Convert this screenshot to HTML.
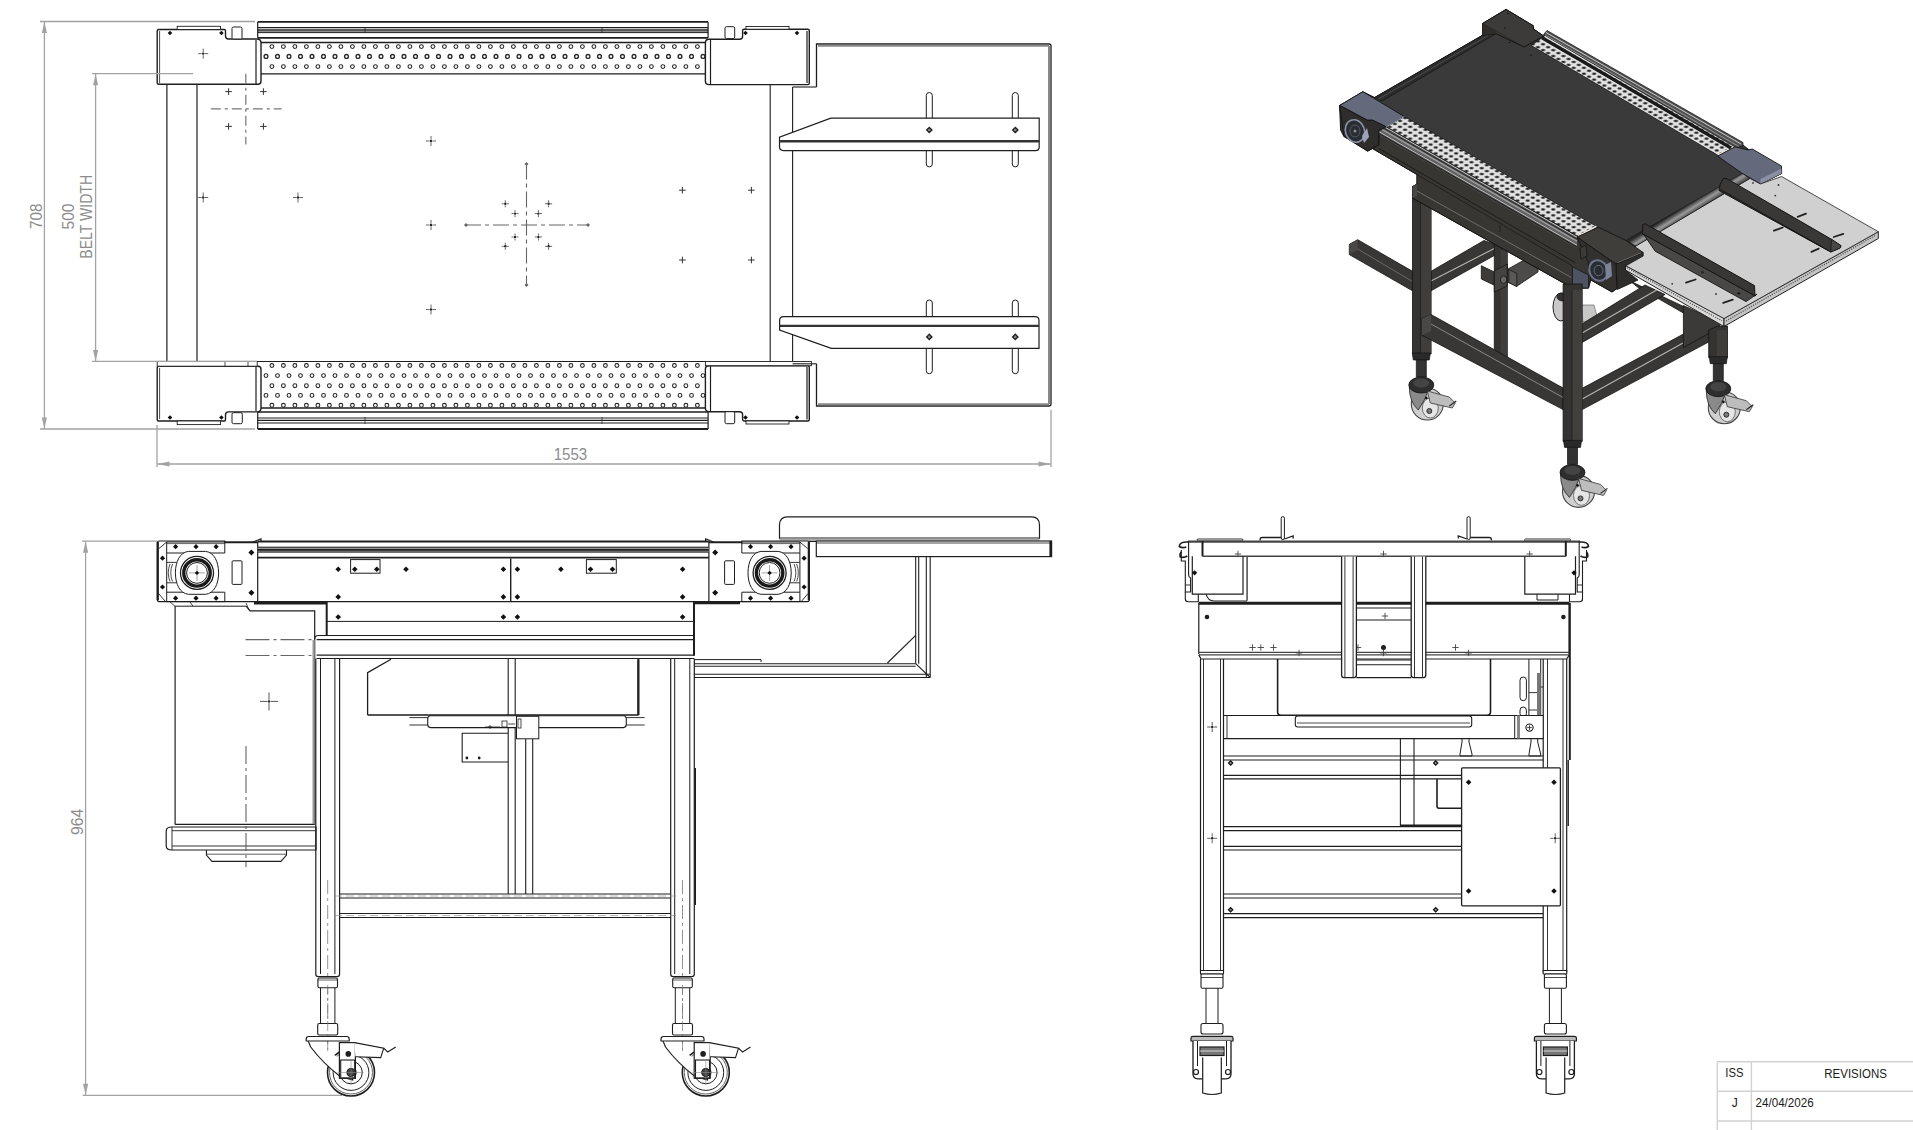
<!DOCTYPE html>
<html><head><meta charset="utf-8"><title>Conveyor drawing</title>
<style>
html,body{margin:0;padding:0;background:#fff;}
body{width:1913px;height:1130px;overflow:hidden;font-family:"Liberation Sans",sans-serif;}
svg{display:block;}
</style></head><body>
<svg width="1913" height="1130" viewBox="0 0 1913 1130">
<rect x="0" y="0" width="1913" height="1130" fill="#fff"/>
<!-- plan -->
<line x1="257.7" y1="21.9" x2="708.1" y2="21.9" stroke="#1e1e1e" stroke-width="1.8" /><line x1="257.7" y1="27.5" x2="708.1" y2="27.5" stroke="#1e1e1e" stroke-width="1.2" /><line x1="257.7" y1="29.2" x2="708.1" y2="29.2" stroke="#1e1e1e" stroke-width="1.1" /><line x1="257.7" y1="30.9" x2="708.1" y2="30.9" stroke="#1e1e1e" stroke-width="1.1" /><line x1="257.7" y1="32.6" x2="708.1" y2="32.6" stroke="#1e1e1e" stroke-width="1.0" /><line x1="257.7" y1="37.8" x2="708.1" y2="37.8" stroke="#1e1e1e" stroke-width="1.7" /><line x1="257.7" y1="21.9" x2="257.7" y2="37.8" stroke="#1e1e1e" stroke-width="1.2" /><line x1="708.1" y1="21.9" x2="708.1" y2="37.8" stroke="#1e1e1e" stroke-width="1.2" /><line x1="365" y1="28" x2="365" y2="33" stroke="#1e1e1e" stroke-width="0.7" /><line x1="602" y1="28" x2="602" y2="33" stroke="#1e1e1e" stroke-width="0.7" />
<line x1="257.7" y1="429" x2="708.1" y2="429" stroke="#1e1e1e" stroke-width="1.8" /><line x1="257.7" y1="423" x2="708.1" y2="423" stroke="#1e1e1e" stroke-width="1.1" /><line x1="257.7" y1="420.4" x2="708.1" y2="420.4" stroke="#1e1e1e" stroke-width="1.2" /><line x1="257.7" y1="418" x2="708.1" y2="418" stroke="#1e1e1e" stroke-width="1.1" /><line x1="257.7" y1="411.9" x2="708.1" y2="411.9" stroke="#1e1e1e" stroke-width="1.5" /><line x1="257.7" y1="411.9" x2="257.7" y2="429" stroke="#1e1e1e" stroke-width="1.2" /><line x1="708.1" y1="411.9" x2="708.1" y2="429" stroke="#1e1e1e" stroke-width="1.2" /><line x1="365" y1="417" x2="365" y2="424" stroke="#1e1e1e" stroke-width="0.7" /><line x1="602" y1="417" x2="602" y2="424" stroke="#1e1e1e" stroke-width="0.7" />
<line x1="261" y1="42.4" x2="705.4" y2="42.4" stroke="#1e1e1e" stroke-width="1.5" />
<line x1="261" y1="73.8" x2="705.4" y2="73.8" stroke="#1e1e1e" stroke-width="1.2" />
<line x1="257" y1="361.5" x2="706" y2="361.5" stroke="#1e1e1e" stroke-width="1.2" />
<line x1="261" y1="408" x2="705.4" y2="408" stroke="#1e1e1e" stroke-width="1.5" />
<g fill="none" stroke="#2a2a2a" stroke-width="1.1"><circle cx="271.9" cy="46.6" r="1.9"/><circle cx="283.4" cy="46.6" r="1.9"/><circle cx="294.9" cy="46.6" r="1.9"/><circle cx="306.4" cy="46.6" r="1.9"/><circle cx="317.9" cy="46.6" r="1.9"/><circle cx="329.4" cy="46.6" r="1.9"/><circle cx="340.9" cy="46.6" r="1.9"/><circle cx="352.4" cy="46.6" r="1.9"/><circle cx="363.9" cy="46.6" r="1.9"/><circle cx="375.4" cy="46.6" r="1.9"/><circle cx="386.9" cy="46.6" r="1.9"/><circle cx="398.4" cy="46.6" r="1.9"/><circle cx="409.9" cy="46.6" r="1.9"/><circle cx="421.4" cy="46.6" r="1.9"/><circle cx="432.9" cy="46.6" r="1.9"/><circle cx="444.4" cy="46.6" r="1.9"/><circle cx="455.9" cy="46.6" r="1.9"/><circle cx="467.4" cy="46.6" r="1.9"/><circle cx="478.9" cy="46.6" r="1.9"/><circle cx="490.4" cy="46.6" r="1.9"/><circle cx="501.9" cy="46.6" r="1.9"/><circle cx="513.4" cy="46.6" r="1.9"/><circle cx="524.9" cy="46.6" r="1.9"/><circle cx="536.4" cy="46.6" r="1.9"/><circle cx="547.9" cy="46.6" r="1.9"/><circle cx="559.4" cy="46.6" r="1.9"/><circle cx="570.9" cy="46.6" r="1.9"/><circle cx="582.4" cy="46.6" r="1.9"/><circle cx="593.9" cy="46.6" r="1.9"/><circle cx="605.4" cy="46.6" r="1.9"/><circle cx="616.9" cy="46.6" r="1.9"/><circle cx="628.4" cy="46.6" r="1.9"/><circle cx="639.9" cy="46.6" r="1.9"/><circle cx="651.4" cy="46.6" r="1.9"/><circle cx="662.9" cy="46.6" r="1.9"/><circle cx="674.4" cy="46.6" r="1.9"/><circle cx="685.9" cy="46.6" r="1.9"/><circle cx="697.4" cy="46.6" r="1.9"/><circle cx="271.9" cy="66.6" r="1.9"/><circle cx="283.4" cy="66.6" r="1.9"/><circle cx="294.9" cy="66.6" r="1.9"/><circle cx="306.4" cy="66.6" r="1.9"/><circle cx="317.9" cy="66.6" r="1.9"/><circle cx="329.4" cy="66.6" r="1.9"/><circle cx="340.9" cy="66.6" r="1.9"/><circle cx="352.4" cy="66.6" r="1.9"/><circle cx="363.9" cy="66.6" r="1.9"/><circle cx="375.4" cy="66.6" r="1.9"/><circle cx="386.9" cy="66.6" r="1.9"/><circle cx="398.4" cy="66.6" r="1.9"/><circle cx="409.9" cy="66.6" r="1.9"/><circle cx="421.4" cy="66.6" r="1.9"/><circle cx="432.9" cy="66.6" r="1.9"/><circle cx="444.4" cy="66.6" r="1.9"/><circle cx="455.9" cy="66.6" r="1.9"/><circle cx="467.4" cy="66.6" r="1.9"/><circle cx="478.9" cy="66.6" r="1.9"/><circle cx="490.4" cy="66.6" r="1.9"/><circle cx="501.9" cy="66.6" r="1.9"/><circle cx="513.4" cy="66.6" r="1.9"/><circle cx="524.9" cy="66.6" r="1.9"/><circle cx="536.4" cy="66.6" r="1.9"/><circle cx="547.9" cy="66.6" r="1.9"/><circle cx="559.4" cy="66.6" r="1.9"/><circle cx="570.9" cy="66.6" r="1.9"/><circle cx="582.4" cy="66.6" r="1.9"/><circle cx="593.9" cy="66.6" r="1.9"/><circle cx="605.4" cy="66.6" r="1.9"/><circle cx="616.9" cy="66.6" r="1.9"/><circle cx="628.4" cy="66.6" r="1.9"/><circle cx="639.9" cy="66.6" r="1.9"/><circle cx="651.4" cy="66.6" r="1.9"/><circle cx="662.9" cy="66.6" r="1.9"/><circle cx="674.4" cy="66.6" r="1.9"/><circle cx="685.9" cy="66.6" r="1.9"/><circle cx="697.4" cy="66.6" r="1.9"/><circle cx="271.9" cy="365.5" r="1.9"/><circle cx="283.4" cy="365.5" r="1.9"/><circle cx="294.9" cy="365.5" r="1.9"/><circle cx="306.4" cy="365.5" r="1.9"/><circle cx="317.9" cy="365.5" r="1.9"/><circle cx="329.4" cy="365.5" r="1.9"/><circle cx="340.9" cy="365.5" r="1.9"/><circle cx="352.4" cy="365.5" r="1.9"/><circle cx="363.9" cy="365.5" r="1.9"/><circle cx="375.4" cy="365.5" r="1.9"/><circle cx="386.9" cy="365.5" r="1.9"/><circle cx="398.4" cy="365.5" r="1.9"/><circle cx="409.9" cy="365.5" r="1.9"/><circle cx="421.4" cy="365.5" r="1.9"/><circle cx="432.9" cy="365.5" r="1.9"/><circle cx="444.4" cy="365.5" r="1.9"/><circle cx="455.9" cy="365.5" r="1.9"/><circle cx="467.4" cy="365.5" r="1.9"/><circle cx="478.9" cy="365.5" r="1.9"/><circle cx="490.4" cy="365.5" r="1.9"/><circle cx="501.9" cy="365.5" r="1.9"/><circle cx="513.4" cy="365.5" r="1.9"/><circle cx="524.9" cy="365.5" r="1.9"/><circle cx="536.4" cy="365.5" r="1.9"/><circle cx="547.9" cy="365.5" r="1.9"/><circle cx="559.4" cy="365.5" r="1.9"/><circle cx="570.9" cy="365.5" r="1.9"/><circle cx="582.4" cy="365.5" r="1.9"/><circle cx="593.9" cy="365.5" r="1.9"/><circle cx="605.4" cy="365.5" r="1.9"/><circle cx="616.9" cy="365.5" r="1.9"/><circle cx="628.4" cy="365.5" r="1.9"/><circle cx="639.9" cy="365.5" r="1.9"/><circle cx="651.4" cy="365.5" r="1.9"/><circle cx="662.9" cy="365.5" r="1.9"/><circle cx="674.4" cy="365.5" r="1.9"/><circle cx="685.9" cy="365.5" r="1.9"/><circle cx="697.4" cy="365.5" r="1.9"/><circle cx="266" cy="375.6" r="1.9"/><circle cx="277.5" cy="375.6" r="1.9"/><circle cx="289" cy="375.6" r="1.9"/><circle cx="300.5" cy="375.6" r="1.9"/><circle cx="312" cy="375.6" r="1.9"/><circle cx="323.5" cy="375.6" r="1.9"/><circle cx="335" cy="375.6" r="1.9"/><circle cx="346.5" cy="375.6" r="1.9"/><circle cx="358" cy="375.6" r="1.9"/><circle cx="369.5" cy="375.6" r="1.9"/><circle cx="381" cy="375.6" r="1.9"/><circle cx="392.5" cy="375.6" r="1.9"/><circle cx="404" cy="375.6" r="1.9"/><circle cx="415.5" cy="375.6" r="1.9"/><circle cx="427" cy="375.6" r="1.9"/><circle cx="438.5" cy="375.6" r="1.9"/><circle cx="450" cy="375.6" r="1.9"/><circle cx="461.5" cy="375.6" r="1.9"/><circle cx="473" cy="375.6" r="1.9"/><circle cx="484.5" cy="375.6" r="1.9"/><circle cx="496" cy="375.6" r="1.9"/><circle cx="507.5" cy="375.6" r="1.9"/><circle cx="519" cy="375.6" r="1.9"/><circle cx="530.5" cy="375.6" r="1.9"/><circle cx="542" cy="375.6" r="1.9"/><circle cx="553.5" cy="375.6" r="1.9"/><circle cx="565" cy="375.6" r="1.9"/><circle cx="576.5" cy="375.6" r="1.9"/><circle cx="588" cy="375.6" r="1.9"/><circle cx="599.5" cy="375.6" r="1.9"/><circle cx="611" cy="375.6" r="1.9"/><circle cx="622.5" cy="375.6" r="1.9"/><circle cx="634" cy="375.6" r="1.9"/><circle cx="645.5" cy="375.6" r="1.9"/><circle cx="657" cy="375.6" r="1.9"/><circle cx="668.5" cy="375.6" r="1.9"/><circle cx="680" cy="375.6" r="1.9"/><circle cx="691.5" cy="375.6" r="1.9"/><circle cx="703" cy="375.6" r="1.9"/><circle cx="271.9" cy="385.7" r="1.9"/><circle cx="283.4" cy="385.7" r="1.9"/><circle cx="294.9" cy="385.7" r="1.9"/><circle cx="306.4" cy="385.7" r="1.9"/><circle cx="317.9" cy="385.7" r="1.9"/><circle cx="329.4" cy="385.7" r="1.9"/><circle cx="340.9" cy="385.7" r="1.9"/><circle cx="352.4" cy="385.7" r="1.9"/><circle cx="363.9" cy="385.7" r="1.9"/><circle cx="375.4" cy="385.7" r="1.9"/><circle cx="386.9" cy="385.7" r="1.9"/><circle cx="398.4" cy="385.7" r="1.9"/><circle cx="409.9" cy="385.7" r="1.9"/><circle cx="421.4" cy="385.7" r="1.9"/><circle cx="432.9" cy="385.7" r="1.9"/><circle cx="444.4" cy="385.7" r="1.9"/><circle cx="455.9" cy="385.7" r="1.9"/><circle cx="467.4" cy="385.7" r="1.9"/><circle cx="478.9" cy="385.7" r="1.9"/><circle cx="490.4" cy="385.7" r="1.9"/><circle cx="501.9" cy="385.7" r="1.9"/><circle cx="513.4" cy="385.7" r="1.9"/><circle cx="524.9" cy="385.7" r="1.9"/><circle cx="536.4" cy="385.7" r="1.9"/><circle cx="547.9" cy="385.7" r="1.9"/><circle cx="559.4" cy="385.7" r="1.9"/><circle cx="570.9" cy="385.7" r="1.9"/><circle cx="582.4" cy="385.7" r="1.9"/><circle cx="593.9" cy="385.7" r="1.9"/><circle cx="605.4" cy="385.7" r="1.9"/><circle cx="616.9" cy="385.7" r="1.9"/><circle cx="628.4" cy="385.7" r="1.9"/><circle cx="639.9" cy="385.7" r="1.9"/><circle cx="651.4" cy="385.7" r="1.9"/><circle cx="662.9" cy="385.7" r="1.9"/><circle cx="674.4" cy="385.7" r="1.9"/><circle cx="685.9" cy="385.7" r="1.9"/><circle cx="697.4" cy="385.7" r="1.9"/><circle cx="266" cy="395.4" r="1.9"/><circle cx="277.5" cy="395.4" r="1.9"/><circle cx="289" cy="395.4" r="1.9"/><circle cx="300.5" cy="395.4" r="1.9"/><circle cx="312" cy="395.4" r="1.9"/><circle cx="323.5" cy="395.4" r="1.9"/><circle cx="335" cy="395.4" r="1.9"/><circle cx="346.5" cy="395.4" r="1.9"/><circle cx="358" cy="395.4" r="1.9"/><circle cx="369.5" cy="395.4" r="1.9"/><circle cx="381" cy="395.4" r="1.9"/><circle cx="392.5" cy="395.4" r="1.9"/><circle cx="404" cy="395.4" r="1.9"/><circle cx="415.5" cy="395.4" r="1.9"/><circle cx="427" cy="395.4" r="1.9"/><circle cx="438.5" cy="395.4" r="1.9"/><circle cx="450" cy="395.4" r="1.9"/><circle cx="461.5" cy="395.4" r="1.9"/><circle cx="473" cy="395.4" r="1.9"/><circle cx="484.5" cy="395.4" r="1.9"/><circle cx="496" cy="395.4" r="1.9"/><circle cx="507.5" cy="395.4" r="1.9"/><circle cx="519" cy="395.4" r="1.9"/><circle cx="530.5" cy="395.4" r="1.9"/><circle cx="542" cy="395.4" r="1.9"/><circle cx="553.5" cy="395.4" r="1.9"/><circle cx="565" cy="395.4" r="1.9"/><circle cx="576.5" cy="395.4" r="1.9"/><circle cx="588" cy="395.4" r="1.9"/><circle cx="599.5" cy="395.4" r="1.9"/><circle cx="611" cy="395.4" r="1.9"/><circle cx="622.5" cy="395.4" r="1.9"/><circle cx="634" cy="395.4" r="1.9"/><circle cx="645.5" cy="395.4" r="1.9"/><circle cx="657" cy="395.4" r="1.9"/><circle cx="668.5" cy="395.4" r="1.9"/><circle cx="680" cy="395.4" r="1.9"/><circle cx="691.5" cy="395.4" r="1.9"/><circle cx="703" cy="395.4" r="1.9"/><circle cx="271.9" cy="405.3" r="1.9"/><circle cx="283.4" cy="405.3" r="1.9"/><circle cx="294.9" cy="405.3" r="1.9"/><circle cx="306.4" cy="405.3" r="1.9"/><circle cx="317.9" cy="405.3" r="1.9"/><circle cx="329.4" cy="405.3" r="1.9"/><circle cx="340.9" cy="405.3" r="1.9"/><circle cx="352.4" cy="405.3" r="1.9"/><circle cx="363.9" cy="405.3" r="1.9"/><circle cx="375.4" cy="405.3" r="1.9"/><circle cx="386.9" cy="405.3" r="1.9"/><circle cx="398.4" cy="405.3" r="1.9"/><circle cx="409.9" cy="405.3" r="1.9"/><circle cx="421.4" cy="405.3" r="1.9"/><circle cx="432.9" cy="405.3" r="1.9"/><circle cx="444.4" cy="405.3" r="1.9"/><circle cx="455.9" cy="405.3" r="1.9"/><circle cx="467.4" cy="405.3" r="1.9"/><circle cx="478.9" cy="405.3" r="1.9"/><circle cx="490.4" cy="405.3" r="1.9"/><circle cx="501.9" cy="405.3" r="1.9"/><circle cx="513.4" cy="405.3" r="1.9"/><circle cx="524.9" cy="405.3" r="1.9"/><circle cx="536.4" cy="405.3" r="1.9"/><circle cx="547.9" cy="405.3" r="1.9"/><circle cx="559.4" cy="405.3" r="1.9"/><circle cx="570.9" cy="405.3" r="1.9"/><circle cx="582.4" cy="405.3" r="1.9"/><circle cx="593.9" cy="405.3" r="1.9"/><circle cx="605.4" cy="405.3" r="1.9"/><circle cx="616.9" cy="405.3" r="1.9"/><circle cx="628.4" cy="405.3" r="1.9"/><circle cx="639.9" cy="405.3" r="1.9"/><circle cx="651.4" cy="405.3" r="1.9"/><circle cx="662.9" cy="405.3" r="1.9"/><circle cx="674.4" cy="405.3" r="1.9"/><circle cx="685.9" cy="405.3" r="1.9"/><circle cx="697.4" cy="405.3" r="1.9"/></g>
<g fill="none" stroke="#2a2a2a" stroke-width="1.35"><circle cx="266" cy="56.4" r="1.9"/><circle cx="277.5" cy="56.4" r="1.9"/><circle cx="289" cy="56.4" r="1.9"/><circle cx="300.5" cy="56.4" r="1.9"/><circle cx="312" cy="56.4" r="1.9"/><circle cx="323.5" cy="56.4" r="1.9"/><circle cx="335" cy="56.4" r="1.9"/><circle cx="346.5" cy="56.4" r="1.9"/><circle cx="358" cy="56.4" r="1.9"/><circle cx="369.5" cy="56.4" r="1.9"/><circle cx="381" cy="56.4" r="1.9"/><circle cx="392.5" cy="56.4" r="1.9"/><circle cx="404" cy="56.4" r="1.9"/><circle cx="415.5" cy="56.4" r="1.9"/><circle cx="427" cy="56.4" r="1.9"/><circle cx="438.5" cy="56.4" r="1.9"/><circle cx="450" cy="56.4" r="1.9"/><circle cx="461.5" cy="56.4" r="1.9"/><circle cx="473" cy="56.4" r="1.9"/><circle cx="484.5" cy="56.4" r="1.9"/><circle cx="496" cy="56.4" r="1.9"/><circle cx="507.5" cy="56.4" r="1.9"/><circle cx="519" cy="56.4" r="1.9"/><circle cx="530.5" cy="56.4" r="1.9"/><circle cx="542" cy="56.4" r="1.9"/><circle cx="553.5" cy="56.4" r="1.9"/><circle cx="565" cy="56.4" r="1.9"/><circle cx="576.5" cy="56.4" r="1.9"/><circle cx="588" cy="56.4" r="1.9"/><circle cx="599.5" cy="56.4" r="1.9"/><circle cx="611" cy="56.4" r="1.9"/><circle cx="622.5" cy="56.4" r="1.9"/><circle cx="634" cy="56.4" r="1.9"/><circle cx="645.5" cy="56.4" r="1.9"/><circle cx="657" cy="56.4" r="1.9"/><circle cx="668.5" cy="56.4" r="1.9"/><circle cx="680" cy="56.4" r="1.9"/><circle cx="691.5" cy="56.4" r="1.9"/><circle cx="703" cy="56.4" r="1.9"/></g>
<path d="M157.2,31 Q157.2,29.5 158.7,29.5 L224.3,29.5 Q225.5,29.5 225.5,31 L225.5,36 Q225.5,39 228.5,39 L257,39 Q261,39 261,43 L261,81 Q261,84.3 258,84.3 L158.7,84.3 Q157.2,84.3 157.2,82.8 Z" stroke="#1e1e1e" stroke-width="1.4" fill="#fff" />
<line x1="159.6" y1="31" x2="159.6" y2="83" stroke="#1e1e1e" stroke-width="0.8" />
<line x1="256" y1="40" x2="256" y2="84" stroke="#1e1e1e" stroke-width="1.2" />
<rect x="177.2" y="26.3" width="43.3" height="3.2" stroke="#1e1e1e" stroke-width="0.9" fill="#fff" />
<rect x="232" y="27" width="10" height="12" stroke="#1e1e1e" stroke-width="1" fill="#fff" rx="1.5" />
<polygon points="170,30.7 172.3,33 170,35.3 167.7,33" fill="#111" stroke="none" stroke-width="1" />
<polygon points="221.4,30.7 223.7,33 221.4,35.3 219.1,33" fill="#111" stroke="none" stroke-width="1" />
<path d="M157.2,368 Q157.2,366.2 158.7,366.2 L258,366.2 Q261,366.2 261,369 L261,408 Q261,411.9 257,411.9 L228.5,411.9 Q225.5,411.9 225.5,414.9 L225.5,419.5 Q225.5,421 224.3,421 L158.7,421 Q157.2,421 157.2,419.5 Z" stroke="#1e1e1e" stroke-width="1.4" fill="#fff" />
<line x1="159.6" y1="368" x2="159.6" y2="419" stroke="#1e1e1e" stroke-width="0.8" />
<line x1="256" y1="366.5" x2="256" y2="411" stroke="#1e1e1e" stroke-width="1.2" />
<rect x="177.2" y="421" width="43.3" height="3.6" stroke="#1e1e1e" stroke-width="0.9" fill="#fff" />
<rect x="232" y="412.7" width="10.3" height="11" stroke="#1e1e1e" stroke-width="1" fill="#fff" rx="1.5" />
<polygon points="170,415.2 172.3,417.5 170,419.8 167.7,417.5" fill="#111" stroke="none" stroke-width="1" />
<polygon points="221.4,415.2 223.7,417.5 221.4,419.8 219.1,417.5" fill="#111" stroke="none" stroke-width="1" />
<rect x="157.2" y="361.4" width="100" height="4.8" stroke="#1e1e1e" stroke-width="0.9" fill="#fff" />
<line x1="225" y1="361.4" x2="225" y2="366.2" stroke="#1e1e1e" stroke-width="0.8" />
<line x1="248" y1="361.4" x2="248" y2="366.2" stroke="#1e1e1e" stroke-width="0.8" />
<path d="M705.4,43 Q705.4,39.3 709,39.3 L739.6,39.3 Q742.6,39.3 742.6,36.3 L742.6,30.6 Q742.6,29.2 744,29.2 L807.8,29.2 Q809.3,29.2 809.3,30.7 L809.3,83 Q809.3,84.6 807.8,84.6 L709,84.6 Q705.4,84.6 705.4,81 Z" stroke="#1e1e1e" stroke-width="1.4" fill="#fff" />
<line x1="807" y1="31" x2="807" y2="83" stroke="#1e1e1e" stroke-width="1.2" />
<line x1="710.5" y1="40" x2="710.5" y2="84" stroke="#1e1e1e" stroke-width="1.2" />
<rect x="746" y="26.5" width="43" height="2.7" stroke="#1e1e1e" stroke-width="0.9" fill="#fff" />
<rect x="725" y="26.7" width="9.7" height="11.9" stroke="#1e1e1e" stroke-width="1" fill="#fff" rx="1.5" />
<polygon points="745.5,30.7 747.8,33 745.5,35.3 743.2,33" fill="#111" stroke="none" stroke-width="1" />
<polygon points="797,30.7 799.3,33 797,35.3 794.7,33" fill="#111" stroke="none" stroke-width="1" />
<path d="M705.4,369 Q705.4,365.7 709,365.7 L807.8,365.7 Q809.3,365.7 809.3,367.2 L809.3,419.5 Q809.3,421 807.8,421 L744,421 Q742.6,421 742.6,419.6 L742.6,414.7 Q742.6,411.7 739.6,411.7 L709,411.7 Q705.4,411.7 705.4,408 Z" stroke="#1e1e1e" stroke-width="1.4" fill="#fff" />
<line x1="807" y1="367" x2="807" y2="419.5" stroke="#1e1e1e" stroke-width="1.2" />
<line x1="710.5" y1="366" x2="710.5" y2="411" stroke="#1e1e1e" stroke-width="1.2" />
<rect x="746" y="421" width="43" height="3" stroke="#1e1e1e" stroke-width="0.9" fill="#fff" />
<rect x="725" y="411.7" width="9.7" height="12" stroke="#1e1e1e" stroke-width="1" fill="#fff" rx="1.5" />
<polygon points="745.5,415.2 747.8,417.5 745.5,419.8 743.2,417.5" fill="#111" stroke="none" stroke-width="1" />
<polygon points="797,415.2 799.3,417.5 797,419.8 794.7,417.5" fill="#111" stroke="none" stroke-width="1" />
<rect x="705.4" y="361.5" width="106" height="4.2" stroke="#1e1e1e" stroke-width="0.9" fill="#fff" />
<line x1="166.9" y1="84.3" x2="166.9" y2="361.4" stroke="#1e1e1e" stroke-width="1.2" />
<line x1="197" y1="84.3" x2="197" y2="361.4" stroke="#1e1e1e" stroke-width="1.2" />
<line x1="770.2" y1="84.6" x2="770.2" y2="361.5" stroke="#1e1e1e" stroke-width="1.1" />
<line x1="792.6" y1="87" x2="792.6" y2="361.5" stroke="#1e1e1e" stroke-width="1.1" />
<path d="M816.5,87 L816.5,44 L1049,44 Q1051,44 1051,46 L1051,404 Q1051,406 1049,406 L816.5,406 L816.5,363.8" stroke="#1e1e1e" stroke-width="1.3" fill="none" />
<line x1="818" y1="45.8" x2="1049" y2="45.8" stroke="#888" stroke-width="2" />
<line x1="1049" y1="45.8" x2="1049" y2="404.2" stroke="#888" stroke-width="2" />
<line x1="818" y1="404.2" x2="1049" y2="404.2" stroke="#888" stroke-width="2" />
<line x1="792.6" y1="87" x2="816.5" y2="87" stroke="#1e1e1e" stroke-width="1.1" />
<line x1="792.6" y1="363.8" x2="816.5" y2="363.8" stroke="#1e1e1e" stroke-width="1.1" />
<rect x="926.3" y="92.5" width="6" height="74.4" stroke="#1e1e1e" stroke-width="1" fill="#fff" rx="3" />
<rect x="1012.3" y="92.5" width="6" height="74.4" stroke="#1e1e1e" stroke-width="1" fill="#fff" rx="3" />
<path d="M830.8,118.2 L1039.2,118.2 L1039.2,147 Q1039.2,150.6 1035.6,150.6 L783.5,150.6 Q779.5,150.6 779.5,146.6 L779.5,137.1 Z" stroke="#1e1e1e" stroke-width="1.2" fill="#fff" />
<line x1="779.5" y1="141.2" x2="1039.2" y2="141.2" stroke="#333" stroke-width="2.4" />
<polygon points="929.3,126.4 932.9,130 929.3,133.6 925.7,130" fill="#222" stroke="none" stroke-width="1" />
<circle cx="929.3" cy="130" r="1.3" stroke="none" stroke-width="1" fill="#888" />
<polygon points="1015.3,126.4 1018.9,130 1015.3,133.6 1011.7,130" fill="#222" stroke="none" stroke-width="1" />
<circle cx="1015.3" cy="130" r="1.3" stroke="none" stroke-width="1" fill="#888" />
<rect x="926.3" y="300" width="6" height="73.7" stroke="#1e1e1e" stroke-width="1" fill="#fff" rx="3" />
<rect x="1012.3" y="300" width="6" height="73.7" stroke="#1e1e1e" stroke-width="1" fill="#fff" rx="3" />
<path d="M783.5,316.7 L1035,316.7 Q1039,316.7 1039,320.7 L1039,348.4 L831.3,348.4 L779.6,330 L779.6,320.7 Q779.6,316.7 783.5,316.7 Z" stroke="#1e1e1e" stroke-width="1.2" fill="#fff" />
<line x1="779.6" y1="325.9" x2="1039" y2="325.9" stroke="#333" stroke-width="2.4" />
<polygon points="929.3,333.3 932.9,336.9 929.3,340.5 925.7,336.9" fill="#222" stroke="none" stroke-width="1" />
<circle cx="929.3" cy="336.9" r="1.3" stroke="none" stroke-width="1" fill="#888" />
<polygon points="1015.3,333.3 1018.9,336.9 1015.3,340.5 1011.7,336.9" fill="#222" stroke="none" stroke-width="1" />
<circle cx="1015.3" cy="336.9" r="1.3" stroke="none" stroke-width="1" fill="#888" />
<line x1="198.2" y1="53.6" x2="201.7" y2="53.6" stroke="#555" stroke-width="0.9" /><line x1="204.7" y1="53.6" x2="208.2" y2="53.6" stroke="#555" stroke-width="0.9" /><line x1="203.2" y1="48.6" x2="203.2" y2="52.1" stroke="#555" stroke-width="0.9" /><line x1="203.2" y1="55.1" x2="203.2" y2="58.6" stroke="#555" stroke-width="0.9" /><circle cx="203.2" cy="53.6" r="1.2" stroke="none" stroke-width="1" fill="#222" />
<line x1="426" y1="141" x2="429.5" y2="141" stroke="#555" stroke-width="0.9" /><line x1="432.5" y1="141" x2="436" y2="141" stroke="#555" stroke-width="0.9" /><line x1="431" y1="136" x2="431" y2="139.5" stroke="#555" stroke-width="0.9" /><line x1="431" y1="142.5" x2="431" y2="146" stroke="#555" stroke-width="0.9" /><circle cx="431" cy="141" r="1.2" stroke="none" stroke-width="1" fill="#222" />
<line x1="426" y1="225" x2="429.5" y2="225" stroke="#555" stroke-width="0.9" /><line x1="432.5" y1="225" x2="436" y2="225" stroke="#555" stroke-width="0.9" /><line x1="431" y1="220" x2="431" y2="223.5" stroke="#555" stroke-width="0.9" /><line x1="431" y1="226.5" x2="431" y2="230" stroke="#555" stroke-width="0.9" /><circle cx="431" cy="225" r="1.2" stroke="none" stroke-width="1" fill="#222" />
<line x1="426" y1="309.5" x2="429.5" y2="309.5" stroke="#555" stroke-width="0.9" /><line x1="432.5" y1="309.5" x2="436" y2="309.5" stroke="#555" stroke-width="0.9" /><line x1="431" y1="304.5" x2="431" y2="308" stroke="#555" stroke-width="0.9" /><line x1="431" y1="311" x2="431" y2="314.5" stroke="#555" stroke-width="0.9" /><circle cx="431" cy="309.5" r="1.2" stroke="none" stroke-width="1" fill="#222" />
<line x1="198.2" y1="197.5" x2="201.7" y2="197.5" stroke="#555" stroke-width="0.9" /><line x1="204.7" y1="197.5" x2="208.2" y2="197.5" stroke="#555" stroke-width="0.9" /><line x1="203.2" y1="192.5" x2="203.2" y2="196" stroke="#555" stroke-width="0.9" /><line x1="203.2" y1="199" x2="203.2" y2="202.5" stroke="#555" stroke-width="0.9" /><circle cx="203.2" cy="197.5" r="1.2" stroke="none" stroke-width="1" fill="#222" />
<line x1="293" y1="197.5" x2="296.5" y2="197.5" stroke="#555" stroke-width="0.9" /><line x1="299.5" y1="197.5" x2="303" y2="197.5" stroke="#555" stroke-width="0.9" /><line x1="298" y1="192.5" x2="298" y2="196" stroke="#555" stroke-width="0.9" /><line x1="298" y1="199" x2="298" y2="202.5" stroke="#555" stroke-width="0.9" /><circle cx="298" cy="197.5" r="1.2" stroke="none" stroke-width="1" fill="#222" />
<line x1="225.3" y1="91.6" x2="231.9" y2="91.6" stroke="#333" stroke-width="1" /><line x1="228.6" y1="88.3" x2="228.6" y2="94.9" stroke="#333" stroke-width="1" />
<line x1="260.1" y1="91.6" x2="266.7" y2="91.6" stroke="#333" stroke-width="1" /><line x1="263.4" y1="88.3" x2="263.4" y2="94.9" stroke="#333" stroke-width="1" />
<line x1="225.3" y1="126.4" x2="231.9" y2="126.4" stroke="#333" stroke-width="1" /><line x1="228.6" y1="123.1" x2="228.6" y2="129.7" stroke="#333" stroke-width="1" />
<line x1="260.1" y1="126.4" x2="266.7" y2="126.4" stroke="#333" stroke-width="1" /><line x1="263.4" y1="123.1" x2="263.4" y2="129.7" stroke="#333" stroke-width="1" />
<line x1="679.1" y1="190.2" x2="685.7" y2="190.2" stroke="#333" stroke-width="1" /><line x1="682.4" y1="186.9" x2="682.4" y2="193.5" stroke="#333" stroke-width="1" />
<line x1="748.1" y1="190.2" x2="754.7" y2="190.2" stroke="#333" stroke-width="1" /><line x1="751.4" y1="186.9" x2="751.4" y2="193.5" stroke="#333" stroke-width="1" />
<line x1="679.1" y1="260" x2="685.7" y2="260" stroke="#333" stroke-width="1" /><line x1="682.4" y1="256.7" x2="682.4" y2="263.3" stroke="#333" stroke-width="1" />
<line x1="748.1" y1="260" x2="754.7" y2="260" stroke="#333" stroke-width="1" /><line x1="751.4" y1="256.7" x2="751.4" y2="263.3" stroke="#333" stroke-width="1" />
<line x1="501.8" y1="203.8" x2="503.8" y2="203.8" stroke="#555" stroke-width="0.9" /><line x1="506.8" y1="203.8" x2="508.8" y2="203.8" stroke="#555" stroke-width="0.9" /><line x1="505.3" y1="200.3" x2="505.3" y2="202.3" stroke="#555" stroke-width="0.9" /><line x1="505.3" y1="205.3" x2="505.3" y2="207.3" stroke="#555" stroke-width="0.9" /><circle cx="505.3" cy="203.8" r="1.2" stroke="none" stroke-width="1" fill="#222" />
<line x1="545.1" y1="203.8" x2="547.1" y2="203.8" stroke="#555" stroke-width="0.9" /><line x1="550.1" y1="203.8" x2="552.1" y2="203.8" stroke="#555" stroke-width="0.9" /><line x1="548.6" y1="200.3" x2="548.6" y2="202.3" stroke="#555" stroke-width="0.9" /><line x1="548.6" y1="205.3" x2="548.6" y2="207.3" stroke="#555" stroke-width="0.9" /><circle cx="548.6" cy="203.8" r="1.2" stroke="none" stroke-width="1" fill="#222" />
<line x1="511.5" y1="213.6" x2="513.5" y2="213.6" stroke="#555" stroke-width="0.9" /><line x1="516.5" y1="213.6" x2="518.5" y2="213.6" stroke="#555" stroke-width="0.9" /><line x1="515" y1="210.1" x2="515" y2="212.1" stroke="#555" stroke-width="0.9" /><line x1="515" y1="215.1" x2="515" y2="217.1" stroke="#555" stroke-width="0.9" /><circle cx="515" cy="213.6" r="1.2" stroke="none" stroke-width="1" fill="#222" />
<line x1="534.9" y1="213.6" x2="536.9" y2="213.6" stroke="#555" stroke-width="0.9" /><line x1="539.9" y1="213.6" x2="541.9" y2="213.6" stroke="#555" stroke-width="0.9" /><line x1="538.4" y1="210.1" x2="538.4" y2="212.1" stroke="#555" stroke-width="0.9" /><line x1="538.4" y1="215.1" x2="538.4" y2="217.1" stroke="#555" stroke-width="0.9" /><circle cx="538.4" cy="213.6" r="1.2" stroke="none" stroke-width="1" fill="#222" />
<line x1="511.5" y1="237" x2="513.5" y2="237" stroke="#555" stroke-width="0.9" /><line x1="516.5" y1="237" x2="518.5" y2="237" stroke="#555" stroke-width="0.9" /><line x1="515" y1="233.5" x2="515" y2="235.5" stroke="#555" stroke-width="0.9" /><line x1="515" y1="238.5" x2="515" y2="240.5" stroke="#555" stroke-width="0.9" /><circle cx="515" cy="237" r="1.2" stroke="none" stroke-width="1" fill="#222" />
<line x1="534.9" y1="237" x2="536.9" y2="237" stroke="#555" stroke-width="0.9" /><line x1="539.9" y1="237" x2="541.9" y2="237" stroke="#555" stroke-width="0.9" /><line x1="538.4" y1="233.5" x2="538.4" y2="235.5" stroke="#555" stroke-width="0.9" /><line x1="538.4" y1="238.5" x2="538.4" y2="240.5" stroke="#555" stroke-width="0.9" /><circle cx="538.4" cy="237" r="1.2" stroke="none" stroke-width="1" fill="#222" />
<line x1="501.8" y1="246.3" x2="503.8" y2="246.3" stroke="#555" stroke-width="0.9" /><line x1="506.8" y1="246.3" x2="508.8" y2="246.3" stroke="#555" stroke-width="0.9" /><line x1="505.3" y1="242.8" x2="505.3" y2="244.8" stroke="#555" stroke-width="0.9" /><line x1="505.3" y1="247.8" x2="505.3" y2="249.8" stroke="#555" stroke-width="0.9" /><circle cx="505.3" cy="246.3" r="1.2" stroke="none" stroke-width="1" fill="#222" />
<line x1="545.1" y1="246.3" x2="547.1" y2="246.3" stroke="#555" stroke-width="0.9" /><line x1="550.1" y1="246.3" x2="552.1" y2="246.3" stroke="#555" stroke-width="0.9" /><line x1="548.6" y1="242.8" x2="548.6" y2="244.8" stroke="#555" stroke-width="0.9" /><line x1="548.6" y1="247.8" x2="548.6" y2="249.8" stroke="#555" stroke-width="0.9" /><circle cx="548.6" cy="246.3" r="1.2" stroke="none" stroke-width="1" fill="#222" />
<line x1="210.8" y1="108.8" x2="281.6" y2="108.8" stroke="#777" stroke-width="1.2" stroke-dasharray="10,4,3,4"/>
<line x1="245.8" y1="73.7" x2="245.8" y2="144.5" stroke="#777" stroke-width="1.2" stroke-dasharray="10,4,3,4"/>
<line x1="465" y1="225" x2="588" y2="225" stroke="#666" stroke-width="1.1" stroke-dasharray="16,4,4,4"/>
<line x1="526.5" y1="163.5" x2="526.5" y2="285.4" stroke="#666" stroke-width="1.1" stroke-dasharray="16,4,4,4"/>
<polygon points="466,223 468,225 466,227 464,225" fill="#666" stroke="none" stroke-width="1" />
<polygon points="588,223 590,225 588,227 586,225" fill="#666" stroke="none" stroke-width="1" />
<polygon points="526.5,162 528.5,164 526.5,166 524.5,164" fill="#666" stroke="none" stroke-width="1" />
<polygon points="526.5,283 528.5,285 526.5,287 524.5,285" fill="#666" stroke="none" stroke-width="1" />
<line x1="40" y1="21.5" x2="255" y2="21.5" stroke="#a2a2a2" stroke-width="1.3" />
<line x1="40" y1="429" x2="255" y2="429" stroke="#a2a2a2" stroke-width="1.3" />
<line x1="44.4" y1="21.5" x2="44.4" y2="429" stroke="#a2a2a2" stroke-width="1.3" />
<polygon points="44.4,22 47,33 41.8,33" fill="#a2a2a2" stroke="none" stroke-width="1" />
<polygon points="44.4,428.5 41.8,417.5 47,417.5" fill="#a2a2a2" stroke="none" stroke-width="1" />
<line x1="92" y1="73.7" x2="193" y2="73.7" stroke="#a2a2a2" stroke-width="1.3" />
<line x1="92" y1="361.4" x2="257" y2="361.4" stroke="#a2a2a2" stroke-width="1.3" />
<line x1="95.6" y1="73.7" x2="95.6" y2="361.4" stroke="#a2a2a2" stroke-width="1.3" />
<polygon points="95.6,74.2 98.2,85.2 93,85.2" fill="#a2a2a2" stroke="none" stroke-width="1" />
<polygon points="95.6,361 93,350 98.2,350" fill="#a2a2a2" stroke="none" stroke-width="1" />
<line x1="157" y1="425" x2="157" y2="467" stroke="#a2a2a2" stroke-width="1.3" />
<line x1="1051" y1="410" x2="1051" y2="467" stroke="#a2a2a2" stroke-width="1.3" />
<line x1="157" y1="464" x2="1051" y2="464" stroke="#a2a2a2" stroke-width="1.3" />
<polygon points="157.5,464 169.5,461.4 169.5,466.6" fill="#a2a2a2" stroke="none" stroke-width="1" />
<polygon points="1050.5,464 1038.5,466.6 1038.5,461.4" fill="#a2a2a2" stroke="none" stroke-width="1" />
<text x="570.5" y="460.3" font-family="Liberation Sans, sans-serif" font-size="17" fill="#8c8c8c" text-anchor="middle" textLength="33.5" lengthAdjust="spacingAndGlyphs">1553</text>
<text x="0" y="0" font-family="Liberation Sans, sans-serif" font-size="17" fill="#8c8c8c" text-anchor="middle" transform="translate(42.1,216.2) rotate(-90)" textLength="25.5" lengthAdjust="spacingAndGlyphs">708</text>
<text x="0" y="0" font-family="Liberation Sans, sans-serif" font-size="17" fill="#8c8c8c" text-anchor="middle" transform="translate(73.6,216.5) rotate(-90)" textLength="26" lengthAdjust="spacingAndGlyphs">500</text>
<text x="0" y="0" font-family="Liberation Sans, sans-serif" font-size="16" fill="#8c8c8c" text-anchor="middle" transform="translate(92.2,216.8) rotate(-90)" textLength="83.8" lengthAdjust="spacingAndGlyphs">BELT WIDTH</text>
<!-- side -->
<line x1="82" y1="541.2" x2="157.2" y2="541.2" stroke="#a2a2a2" stroke-width="1.3" />
<line x1="82.6" y1="1095.3" x2="342" y2="1095.3" stroke="#a2a2a2" stroke-width="1.3" />
<line x1="85.6" y1="541.2" x2="85.6" y2="1095.3" stroke="#a2a2a2" stroke-width="1.3" />
<polygon points="85.6,541.7 88.2,552.7 83,552.7" fill="#a2a2a2" stroke="none" stroke-width="1" />
<polygon points="85.6,1094.8 83,1083.8 88.2,1083.8" fill="#a2a2a2" stroke="none" stroke-width="1" />
<text x="0" y="0" font-family="Liberation Sans, sans-serif" font-size="17" fill="#8c8c8c" text-anchor="middle" transform="translate(83.4,821.8) rotate(-90)" textLength="26.2" lengthAdjust="spacingAndGlyphs">964</text>
<g><path d="M157.3,543 Q157.3,541 159.3,541 L224.8,541 L224.8,542.5 L257.7,542.5 L257.7,601.6 L159.3,601.6 Q157.3,601.6 157.3,599.6 Z" stroke="#1e1e1e" stroke-width="1.2" fill="#fff" /><line x1="157.8" y1="542" x2="157.8" y2="600" stroke="#1e1e1e" stroke-width="2.2" /><line x1="166.7" y1="542" x2="166.7" y2="601.6" stroke="#1e1e1e" stroke-width="1" /><line x1="159" y1="548.5" x2="166.7" y2="542" stroke="#1e1e1e" stroke-width="0.9" /><line x1="158.5" y1="593.5" x2="165.5" y2="601.6" stroke="#1e1e1e" stroke-width="0.9" /><path d="M166.7,542 L224.8,542 L224.8,553 L166.7,553" stroke="#1e1e1e" stroke-width="1" fill="none" /><line x1="166.7" y1="543.6" x2="224.8" y2="543.6" stroke="#1e1e1e" stroke-width="0.7" /><path d="M166.7,601.6 L224.8,601.6 L224.8,592.2 L166.7,592.2" stroke="#1e1e1e" stroke-width="1" fill="none" /><path d="M188.5,551.4 L205.5,551.4 C214,552.2 218.6,561.5 218.6,572.9 C218.6,584.3 214,593.5 205.5,594.3 L188.5,594.3 C180,593.5 175.4,584.3 175.4,572.9 C175.4,561.5 180,552.2 188.5,551.4 Z" stroke="#1e1e1e" stroke-width="1" fill="#fff" /><circle cx="197" cy="572.9" r="16.5" stroke="#1e1e1e" stroke-width="1.3" fill="none" /><circle cx="197" cy="572.9" r="13.2" stroke="#1a1a1a" stroke-width="3.4" fill="none" /><circle cx="197" cy="572.9" r="10.4" stroke="#1e1e1e" stroke-width="1" fill="none" /><line x1="189" y1="572.9" x2="205" y2="572.9" stroke="#666" stroke-width="0.6" /><line x1="197" y1="565" x2="197" y2="581" stroke="#666" stroke-width="0.6" /><polygon points="197,570.7 199.2,572.9 197,575.1 194.8,572.9" fill="#111" stroke="none" stroke-width="1" /><path d="M166.7,562.4 L176.5,562.4 M166.7,582.8 L176.5,582.8" stroke="#1e1e1e" stroke-width="0.9" fill="none" /><path d="M170,564 Q166.5,572.9 170,581.5 M172.5,564 Q169,572.9 172.5,581.5" stroke="#1e1e1e" stroke-width="0.8" fill="none" /><polygon points="175.6,544.1 178.2,546.7 175.6,549.3 173,546.7" fill="#111" stroke="none" stroke-width="1" /><polygon points="175.6,595.6 178.2,598.2 175.6,600.8 173,598.2" fill="#111" stroke="none" stroke-width="1" /><polygon points="196,544.1 198.6,546.7 196,549.3 193.4,546.7" fill="#111" stroke="none" stroke-width="1" /><polygon points="196,595.6 198.6,598.2 196,600.8 193.4,598.2" fill="#111" stroke="none" stroke-width="1" /><polygon points="216.1,544.1 218.7,546.7 216.1,549.3 213.5,546.7" fill="#111" stroke="none" stroke-width="1" /><polygon points="216.1,595.6 218.7,598.2 216.1,600.8 213.5,598.2" fill="#111" stroke="none" stroke-width="1" /><polygon points="162.5,555.6 165.1,558.2 162.5,560.8 159.9,558.2" fill="#111" stroke="none" stroke-width="1" /><polygon points="162.5,584.4 165.1,587 162.5,589.6 159.9,587" fill="#111" stroke="none" stroke-width="1" /><rect x="232.1" y="560.8" width="9.9" height="23.6" stroke="#1e1e1e" stroke-width="1" fill="#fff" rx="1" /><polygon points="251.4,549.5 254.4,552.5 251.4,555.5 248.4,552.5" fill="#111" stroke="none" stroke-width="1" /><polygon points="251.4,589.7 254.4,592.7 251.4,595.7 248.4,592.7" fill="#111" stroke="none" stroke-width="1" /><line x1="224.8" y1="542.3" x2="257.7" y2="542.3" stroke="#1e1e1e" stroke-width="2" /><path d="M253,542 L261,538.8 L261,542" stroke="#1e1e1e" stroke-width="1.2" fill="none" /></g>
<g transform="translate(966.6,0) scale(-1,1)"><path d="M157.3,543 Q157.3,541 159.3,541 L224.8,541 L224.8,542.5 L257.7,542.5 L257.7,601.6 L159.3,601.6 Q157.3,601.6 157.3,599.6 Z" stroke="#1e1e1e" stroke-width="1.2" fill="#fff" /><line x1="157.8" y1="542" x2="157.8" y2="600" stroke="#1e1e1e" stroke-width="2.2" /><line x1="166.7" y1="542" x2="166.7" y2="601.6" stroke="#1e1e1e" stroke-width="1" /><line x1="159" y1="548.5" x2="166.7" y2="542" stroke="#1e1e1e" stroke-width="0.9" /><line x1="158.5" y1="593.5" x2="165.5" y2="601.6" stroke="#1e1e1e" stroke-width="0.9" /><path d="M166.7,542 L224.8,542 L224.8,553 L166.7,553" stroke="#1e1e1e" stroke-width="1" fill="none" /><line x1="166.7" y1="543.6" x2="224.8" y2="543.6" stroke="#1e1e1e" stroke-width="0.7" /><path d="M166.7,601.6 L224.8,601.6 L224.8,592.2 L166.7,592.2" stroke="#1e1e1e" stroke-width="1" fill="none" /><path d="M188.5,551.4 L205.5,551.4 C214,552.2 218.6,561.5 218.6,572.9 C218.6,584.3 214,593.5 205.5,594.3 L188.5,594.3 C180,593.5 175.4,584.3 175.4,572.9 C175.4,561.5 180,552.2 188.5,551.4 Z" stroke="#1e1e1e" stroke-width="1" fill="#fff" /><circle cx="197" cy="572.9" r="16.5" stroke="#1e1e1e" stroke-width="1.3" fill="none" /><circle cx="197" cy="572.9" r="13.2" stroke="#1a1a1a" stroke-width="3.4" fill="none" /><circle cx="197" cy="572.9" r="10.4" stroke="#1e1e1e" stroke-width="1" fill="none" /><line x1="189" y1="572.9" x2="205" y2="572.9" stroke="#666" stroke-width="0.6" /><line x1="197" y1="565" x2="197" y2="581" stroke="#666" stroke-width="0.6" /><polygon points="197,570.7 199.2,572.9 197,575.1 194.8,572.9" fill="#111" stroke="none" stroke-width="1" /><path d="M166.7,562.4 L176.5,562.4 M166.7,582.8 L176.5,582.8" stroke="#1e1e1e" stroke-width="0.9" fill="none" /><path d="M170,564 Q166.5,572.9 170,581.5 M172.5,564 Q169,572.9 172.5,581.5" stroke="#1e1e1e" stroke-width="0.8" fill="none" /><polygon points="175.6,544.1 178.2,546.7 175.6,549.3 173,546.7" fill="#111" stroke="none" stroke-width="1" /><polygon points="175.6,595.6 178.2,598.2 175.6,600.8 173,598.2" fill="#111" stroke="none" stroke-width="1" /><polygon points="196,544.1 198.6,546.7 196,549.3 193.4,546.7" fill="#111" stroke="none" stroke-width="1" /><polygon points="196,595.6 198.6,598.2 196,600.8 193.4,598.2" fill="#111" stroke="none" stroke-width="1" /><polygon points="216.1,544.1 218.7,546.7 216.1,549.3 213.5,546.7" fill="#111" stroke="none" stroke-width="1" /><polygon points="216.1,595.6 218.7,598.2 216.1,600.8 213.5,598.2" fill="#111" stroke="none" stroke-width="1" /><polygon points="162.5,555.6 165.1,558.2 162.5,560.8 159.9,558.2" fill="#111" stroke="none" stroke-width="1" /><polygon points="162.5,584.4 165.1,587 162.5,589.6 159.9,587" fill="#111" stroke="none" stroke-width="1" /><rect x="232.1" y="560.8" width="9.9" height="23.6" stroke="#1e1e1e" stroke-width="1" fill="#fff" rx="1" /><polygon points="251.4,549.5 254.4,552.5 251.4,555.5 248.4,552.5" fill="#111" stroke="none" stroke-width="1" /><polygon points="251.4,589.7 254.4,592.7 251.4,595.7 248.4,592.7" fill="#111" stroke="none" stroke-width="1" /><line x1="224.8" y1="542.3" x2="257.7" y2="542.3" stroke="#1e1e1e" stroke-width="2" /><path d="M253,542 L261,538.8 L261,542" stroke="#1e1e1e" stroke-width="1.2" fill="none" /></g>
<line x1="257.7" y1="541.5" x2="708.9" y2="541.5" stroke="#1e1e1e" stroke-width="2" />
<rect x="257.7" y="547" width="451.2" height="5.2" fill="#9a9a9a"/>
<line x1="257.7" y1="547.2" x2="708.9" y2="547.2" stroke="#1e1e1e" stroke-width="1" />
<line x1="257.7" y1="549.9" x2="708.9" y2="549.9" stroke="#1e1e1e" stroke-width="1.8" />
<line x1="257.7" y1="552.1" x2="708.9" y2="552.1" stroke="#1e1e1e" stroke-width="1" />
<line x1="257.7" y1="557.7" x2="708.9" y2="557.7" stroke="#1e1e1e" stroke-width="1.8" />
<line x1="257.7" y1="601.6" x2="708.9" y2="601.6" stroke="#1e1e1e" stroke-width="1.2" />
<line x1="254" y1="603.2" x2="326.7" y2="603.2" stroke="#1e1e1e" stroke-width="2.4" />
<line x1="326.7" y1="602" x2="326.7" y2="635.5" stroke="#1e1e1e" stroke-width="2" />
<line x1="694" y1="601.6" x2="694" y2="655.8" stroke="#1e1e1e" stroke-width="2" />
<line x1="694" y1="603" x2="740" y2="603" stroke="#1e1e1e" stroke-width="2.4" />
<line x1="326.7" y1="621.4" x2="694" y2="621.4" stroke="#1e1e1e" stroke-width="1" />
<line x1="510.7" y1="558.5" x2="510.7" y2="601.6" stroke="#1e1e1e" stroke-width="1.4" />
<polygon points="338.2,594.1 341,596.9 338.2,599.7 335.4,596.9" fill="#111" stroke="none" stroke-width="1" />
<polygon points="338.2,614.2 341,617 338.2,619.8 335.4,617" fill="#111" stroke="none" stroke-width="1" />
<polygon points="503.4,594.1 506.2,596.9 503.4,599.7 500.6,596.9" fill="#111" stroke="none" stroke-width="1" />
<polygon points="503.4,614.2 506.2,617 503.4,619.8 500.6,617" fill="#111" stroke="none" stroke-width="1" />
<polygon points="517.4,594.1 520.2,596.9 517.4,599.7 514.6,596.9" fill="#111" stroke="none" stroke-width="1" />
<polygon points="517.4,614.2 520.2,617 517.4,619.8 514.6,617" fill="#111" stroke="none" stroke-width="1" />
<polygon points="682.6,594.1 685.4,596.9 682.6,599.7 679.8,596.9" fill="#111" stroke="none" stroke-width="1" />
<polygon points="682.6,614.2 685.4,617 682.6,619.8 679.8,617" fill="#111" stroke="none" stroke-width="1" />
<polygon points="338.2,566.4 341,569.2 338.2,572 335.4,569.2" fill="#111" stroke="none" stroke-width="1" />
<polygon points="354.8,566.4 357.6,569.2 354.8,572 352,569.2" fill="#111" stroke="none" stroke-width="1" />
<polygon points="376.8,566.4 379.6,569.2 376.8,572 374,569.2" fill="#111" stroke="none" stroke-width="1" />
<polygon points="406,566.4 408.8,569.2 406,572 403.2,569.2" fill="#111" stroke="none" stroke-width="1" />
<polygon points="503.4,566.4 506.2,569.2 503.4,572 500.6,569.2" fill="#111" stroke="none" stroke-width="1" />
<polygon points="517.4,566.4 520.2,569.2 517.4,572 514.6,569.2" fill="#111" stroke="none" stroke-width="1" />
<polygon points="560.9,566.4 563.7,569.2 560.9,572 558.1,569.2" fill="#111" stroke="none" stroke-width="1" />
<polygon points="590.5,566.4 593.3,569.2 590.5,572 587.7,569.2" fill="#111" stroke="none" stroke-width="1" />
<polygon points="612.5,566.4 615.3,569.2 612.5,572 609.7,569.2" fill="#111" stroke="none" stroke-width="1" />
<polygon points="682.6,566.4 685.4,569.2 682.6,572 679.8,569.2" fill="#111" stroke="none" stroke-width="1" />
<rect x="350.6" y="559.6" width="29.4" height="13.6" stroke="#1e1e1e" stroke-width="1" fill="none" />
<rect x="586.4" y="559.6" width="29.9" height="13.6" stroke="#1e1e1e" stroke-width="1" fill="none" />
<path d="M314.7,639 Q314.7,635.5 318.5,635.5 L694,635.5" stroke="#1e1e1e" stroke-width="1.2" fill="none" />
<line x1="316.6" y1="639.6" x2="694" y2="639.6" stroke="#1e1e1e" stroke-width="1.2" />
<line x1="316.6" y1="655.2" x2="694" y2="655.2" stroke="#1e1e1e" stroke-width="1.2" />
<line x1="316.6" y1="658.5" x2="694" y2="658.5" stroke="#1e1e1e" stroke-width="1.2" />
<line x1="175.1" y1="606" x2="175.1" y2="824.4" stroke="#1e1e1e" stroke-width="1.2" />
<line x1="175.1" y1="606.2" x2="246.2" y2="606.2" stroke="#1e1e1e" stroke-width="1" />
<path d="M246.2,606.2 L250,610.9 L314.7,610.9 L314.7,824.4" stroke="#1e1e1e" stroke-width="1.2" fill="none" />
<path d="M170,602 L175,606.2 M190,602 L193,606.2 M246,603 L249,610" stroke="#1e1e1e" stroke-width="0.8" fill="none" />
<line x1="175.1" y1="824.4" x2="314.7" y2="824.4" stroke="#1e1e1e" stroke-width="1.4" />
<path d="M172,827 L316,827 L316,850 L172,850 Q166.2,850 166.2,846 L166.2,831 Q166.2,827 172,827 Z" stroke="#1e1e1e" stroke-width="1.2" fill="#fff" />
<line x1="172" y1="827" x2="172" y2="850" stroke="#1e1e1e" stroke-width="0.9" />
<line x1="172" y1="830.7" x2="316" y2="830.7" stroke="#1e1e1e" stroke-width="0.9" />
<line x1="172" y1="846" x2="316" y2="846" stroke="#1e1e1e" stroke-width="0.9" />
<path d="M206.4,850 L206.4,855 L212,861.4 L281,861.4 L286.5,855 L286.5,850" stroke="#1e1e1e" stroke-width="1.1" fill="none" />
<line x1="206.4" y1="854.2" x2="286.5" y2="854.2" stroke="#1e1e1e" stroke-width="0.7" />
<line x1="246" y1="746" x2="246" y2="867" stroke="#555" stroke-width="1" stroke-dasharray="18,4,3,4"/>
<line x1="245.5" y1="639.6" x2="314.7" y2="639.6" stroke="#666" stroke-width="1.1" stroke-dasharray="24,4,3,4"/>
<line x1="245.5" y1="655.5" x2="314.7" y2="655.5" stroke="#666" stroke-width="1.1" stroke-dasharray="24,4,3,4"/>
<line x1="260" y1="701.4" x2="267.5" y2="701.4" stroke="#444" stroke-width="0.9" /><line x1="270.5" y1="701.4" x2="278" y2="701.4" stroke="#444" stroke-width="0.9" /><line x1="269" y1="692.4" x2="269" y2="699.9" stroke="#444" stroke-width="0.9" /><line x1="269" y1="702.9" x2="269" y2="710.4" stroke="#444" stroke-width="0.9" /><circle cx="269" cy="701.4" r="1.2" stroke="none" stroke-width="1" fill="#222" />
<line x1="313.6" y1="640" x2="313.6" y2="824" stroke="#999" stroke-width="2.2" />
<line x1="315.8" y1="658.5" x2="315.8" y2="974" stroke="#1e1e1e" stroke-width="1.2" />
<line x1="339.6" y1="658.5" x2="339.6" y2="974" stroke="#1e1e1e" stroke-width="1.2" />
<line x1="320.5" y1="658.5" x2="320.5" y2="974" stroke="#1e1e1e" stroke-width="1" />
<line x1="334.9" y1="658.5" x2="334.9" y2="974" stroke="#1e1e1e" stroke-width="1" />
<path d="M315.8,974 Q315.8,976.7 318.3,976.7 L337.1,976.7 Q339.6,976.7 339.6,974" stroke="#1e1e1e" stroke-width="1.2" fill="none" />
<line x1="327.7" y1="880" x2="327.7" y2="1060" stroke="#777" stroke-width="0.8" stroke-dasharray="14,4,3,4"/>
<line x1="670.7" y1="658.5" x2="670.7" y2="974" stroke="#1e1e1e" stroke-width="1.2" />
<line x1="694.3" y1="658.5" x2="694.3" y2="974" stroke="#1e1e1e" stroke-width="1.2" />
<line x1="674.7" y1="658.5" x2="674.7" y2="974" stroke="#1e1e1e" stroke-width="1" />
<line x1="689.8" y1="658.5" x2="689.8" y2="974" stroke="#1e1e1e" stroke-width="1" />
<path d="M670.7,974 Q670.7,976.7 673.2,976.7 L691.8,976.7 Q694.3,976.7 694.3,974" stroke="#1e1e1e" stroke-width="1.2" fill="none" />
<line x1="682.5" y1="880" x2="682.5" y2="1060" stroke="#777" stroke-width="0.8" stroke-dasharray="14,4,3,4"/>
<line x1="695.2" y1="768" x2="695.2" y2="905" stroke="#1e1e1e" stroke-width="1.6" />
<line x1="339.6" y1="894" x2="670.7" y2="894" stroke="#1e1e1e" stroke-width="1.1" />
<line x1="339.6" y1="898" x2="670.7" y2="898" stroke="#1e1e1e" stroke-width="1.1" />
<line x1="339.6" y1="913.5" x2="670.7" y2="913.5" stroke="#1e1e1e" stroke-width="1.1" />
<line x1="339.6" y1="917.5" x2="670.7" y2="917.5" stroke="#1e1e1e" stroke-width="1.1" />
<line x1="334" y1="896" x2="676" y2="896" stroke="#888" stroke-width="0.6" stroke-dasharray="8,4"/>
<line x1="334" y1="915.5" x2="676" y2="915.5" stroke="#888" stroke-width="0.6" stroke-dasharray="8,4"/>
<line x1="508.2" y1="658.5" x2="508.2" y2="894" stroke="#1e1e1e" stroke-width="1.1" />
<line x1="515.2" y1="658.5" x2="515.2" y2="894" stroke="#1e1e1e" stroke-width="1.1" />
<line x1="525.7" y1="739" x2="525.7" y2="894" stroke="#1e1e1e" stroke-width="1.1" />
<line x1="532.7" y1="739" x2="532.7" y2="894" stroke="#1e1e1e" stroke-width="1.1" />
<path d="M367.6,715 L367.6,672.7 L391,659.2 M638,659.2 L638,715 L367.6,715" stroke="#1e1e1e" stroke-width="1.3" fill="none" />
<line x1="638.5" y1="659.2" x2="638.5" y2="715" stroke="#1e1e1e" stroke-width="2" />
<rect x="427.7" y="715.8" width="198.6" height="11.8" stroke="#1e1e1e" stroke-width="1.1" fill="#fff" rx="3" />
<line x1="409.4" y1="717.6" x2="427.7" y2="717.6" stroke="#1e1e1e" stroke-width="0.9" />
<line x1="409.4" y1="725" x2="427.7" y2="725" stroke="#1e1e1e" stroke-width="0.9" />
<line x1="626.3" y1="717.6" x2="644.6" y2="717.6" stroke="#1e1e1e" stroke-width="0.9" />
<line x1="626.3" y1="725" x2="644.6" y2="725" stroke="#1e1e1e" stroke-width="0.9" />
<rect x="516.5" y="716.3" width="22.3" height="22.5" stroke="#1e1e1e" stroke-width="1" fill="#fff" />
<line x1="508.2" y1="724" x2="515.2" y2="724" stroke="#1e1e1e" stroke-width="0.8" />
<rect x="502" y="721" width="5" height="6" stroke="#1e1e1e" stroke-width="0.8" fill="#fff" />
<rect x="518" y="719" width="3" height="9" stroke="#1e1e1e" stroke-width="0.8" fill="none" />
<line x1="485" y1="727" x2="500" y2="727" stroke="#1e1e1e" stroke-width="0.8" />
<line x1="488" y1="727" x2="492" y2="727" stroke="#1e1e1e" stroke-width="0.8" /><line x1="490" y1="725" x2="490" y2="729" stroke="#1e1e1e" stroke-width="0.8" />
<path d="M508,733.3 L462.2,733.3 L462.2,762 L508,762" stroke="#1e1e1e" stroke-width="1.1" fill="none" />
<circle cx="466.9" cy="758" r="1.4" stroke="none" stroke-width="1" fill="#1e1e1e" />
<circle cx="479.2" cy="758" r="1.4" stroke="none" stroke-width="1" fill="#1e1e1e" />
<line x1="694" y1="659.6" x2="761" y2="659.6" stroke="#1e1e1e" stroke-width="1" />
<line x1="761" y1="659.6" x2="761" y2="662" stroke="#1e1e1e" stroke-width="1" />
<line x1="694" y1="663.7" x2="915.7" y2="663.7" stroke="#1e1e1e" stroke-width="1.1" />
<line x1="694" y1="666.3" x2="915.7" y2="666.3" stroke="#1e1e1e" stroke-width="1.1" />
<line x1="694" y1="674.3" x2="930.2" y2="674.3" stroke="#1e1e1e" stroke-width="1.1" />
<line x1="694" y1="677.5" x2="930.2" y2="677.5" stroke="#1e1e1e" stroke-width="1.1" />
<line x1="915.7" y1="556.6" x2="915.7" y2="663.7" stroke="#1e1e1e" stroke-width="1.1" />
<line x1="918.7" y1="556.6" x2="918.7" y2="663.7" stroke="#1e1e1e" stroke-width="1.1" />
<line x1="926.3" y1="556.6" x2="926.3" y2="677.5" stroke="#1e1e1e" stroke-width="1.1" />
<line x1="930.2" y1="556.6" x2="930.2" y2="677.5" stroke="#1e1e1e" stroke-width="1.1" />
<line x1="915.7" y1="663.7" x2="930.2" y2="677.5" stroke="#1e1e1e" stroke-width="1.1" />
<line x1="887.4" y1="663" x2="915.7" y2="635.3" stroke="#1e1e1e" stroke-width="1.1" />
<rect x="816.3" y="541" width="235.3" height="15.6" stroke="#1e1e1e" stroke-width="1.2" fill="#fff" />
<line x1="816.3" y1="543" x2="1051.6" y2="543" stroke="#1e1e1e" stroke-width="0.8" />
<line x1="1050.6" y1="541" x2="1050.6" y2="556.6" stroke="#1e1e1e" stroke-width="2.4" />
<path d="M779.5,538.8 L779.5,525 Q779.5,516.8 787.5,516.8 L1031.5,516.8 Q1039.5,516.8 1039.5,525 L1039.5,538.8" stroke="#1e1e1e" stroke-width="1.2" fill="none" />
<line x1="779.5" y1="538" x2="1039.5" y2="538" stroke="#1e1e1e" stroke-width="1.2" />
<line x1="779.5" y1="540" x2="1039.5" y2="540" stroke="#555" stroke-width="1" />
<line x1="809" y1="541.5" x2="816.3" y2="541.5" stroke="#1e1e1e" stroke-width="1" />
<rect x="317.9" y="978" width="19.6" height="9.7" stroke="#1e1e1e" stroke-width="1.1" fill="#fff" rx="1.5" /><line x1="317.9" y1="980" x2="337.5" y2="980" stroke="#1e1e1e" stroke-width="0.7" /><line x1="320.5" y1="987.7" x2="320.5" y2="1023.5" stroke="#1e1e1e" stroke-width="1" /><line x1="334.9" y1="987.7" x2="334.9" y2="1023.5" stroke="#1e1e1e" stroke-width="1" /><rect x="317.7" y="1023.5" width="20" height="11.5" stroke="#1e1e1e" stroke-width="1.1" fill="#fff" rx="1.5" /><line x1="327.7" y1="985" x2="327.7" y2="1050" stroke="#777" stroke-width="0.7" stroke-dasharray="10,3,2,3"/><path d="M306.2,1039 Q306.2,1036.5 308.7,1036.5 L346.7,1036.5 Q349.2,1036.5 349.2,1039 L349.2,1041 L306.2,1041 Z" stroke="#1e1e1e" stroke-width="1.2" fill="#fff" /><circle cx="351" cy="1072.5" r="23.5" stroke="#1e1e1e" stroke-width="1.6" fill="#fff" /><circle cx="351" cy="1072.5" r="21.5" stroke="#666" stroke-width="1" fill="none" /><circle cx="351" cy="1072.5" r="17.9" stroke="#1e1e1e" stroke-width="1" fill="none" /><circle cx="351" cy="1072.5" r="11.3" stroke="#1e1e1e" stroke-width="1" fill="none" /><circle cx="351" cy="1072.5" r="5" stroke="#1e1e1e" stroke-width="1.4" fill="#555" /><path d="M308.2,1041 L310.7,1047 Q322.7,1063 340.2,1076.5 L352.7,1080 L352.7,1065" stroke="#1e1e1e" stroke-width="1.2" fill="#fff" /><rect x="339.4" y="1042.6" width="16" height="35.7" stroke="#1e1e1e" stroke-width="1.2" fill="#fff" /><rect x="340.7" y="1060" width="14" height="18" stroke="#1e1e1e" stroke-width="1.1" fill="none" /><circle cx="348.3" cy="1053.9" r="2.8" stroke="none" stroke-width="1" fill="#1e1e1e" /><circle cx="351" cy="1072.5" r="4" stroke="#1e1e1e" stroke-width="1.2" fill="#444" /><path d="M354.5,1042.6 L383.7,1048.2 L380.7,1057.6 L355.4,1056.7" stroke="#1e1e1e" stroke-width="1.1" fill="#fff" /><path d="M383.7,1048.2 L387.7,1052 L395.7,1047" stroke="#1e1e1e" stroke-width="1.1" fill="none" /><line x1="337.7" y1="1072.5" x2="363.7" y2="1072.5" stroke="#888" stroke-width="0.6" /><line x1="351" y1="1060" x2="351" y2="1085" stroke="#888" stroke-width="0.6" />
<rect x="672.7" y="978" width="19.6" height="9.7" stroke="#1e1e1e" stroke-width="1.1" fill="#fff" rx="1.5" /><line x1="672.7" y1="980" x2="692.3" y2="980" stroke="#1e1e1e" stroke-width="0.7" /><line x1="675.3" y1="987.7" x2="675.3" y2="1023.5" stroke="#1e1e1e" stroke-width="1" /><line x1="689.7" y1="987.7" x2="689.7" y2="1023.5" stroke="#1e1e1e" stroke-width="1" /><rect x="672.5" y="1023.5" width="20" height="11.5" stroke="#1e1e1e" stroke-width="1.1" fill="#fff" rx="1.5" /><line x1="682.5" y1="985" x2="682.5" y2="1050" stroke="#777" stroke-width="0.7" stroke-dasharray="10,3,2,3"/><path d="M661.0,1039 Q661.0,1036.5 663.5,1036.5 L701.5,1036.5 Q704.0,1036.5 704.0,1039 L704.0,1041 L661.0,1041 Z" stroke="#1e1e1e" stroke-width="1.2" fill="#fff" /><circle cx="705.8" cy="1072.5" r="23.5" stroke="#1e1e1e" stroke-width="1.6" fill="#fff" /><circle cx="705.8" cy="1072.5" r="21.5" stroke="#666" stroke-width="1" fill="none" /><circle cx="705.8" cy="1072.5" r="17.9" stroke="#1e1e1e" stroke-width="1" fill="none" /><circle cx="705.8" cy="1072.5" r="11.3" stroke="#1e1e1e" stroke-width="1" fill="none" /><circle cx="705.8" cy="1072.5" r="5" stroke="#1e1e1e" stroke-width="1.4" fill="#555" /><path d="M663.0,1041 L665.5,1047 Q677.5,1063 695.0,1076.5 L707.5,1080 L707.5,1065" stroke="#1e1e1e" stroke-width="1.2" fill="#fff" /><rect x="694.2" y="1042.6" width="16" height="35.7" stroke="#1e1e1e" stroke-width="1.2" fill="#fff" /><rect x="695.5" y="1060" width="14" height="18" stroke="#1e1e1e" stroke-width="1.1" fill="none" /><circle cx="703.1" cy="1053.9" r="2.8" stroke="none" stroke-width="1" fill="#1e1e1e" /><circle cx="705.8" cy="1072.5" r="4" stroke="#1e1e1e" stroke-width="1.2" fill="#444" /><path d="M709.3,1042.6 L738.5,1048.2 L735.5,1057.6 L710.2,1056.7" stroke="#1e1e1e" stroke-width="1.1" fill="#fff" /><path d="M738.5,1048.2 L742.5,1052 L750.5,1047" stroke="#1e1e1e" stroke-width="1.1" fill="none" /><line x1="692.5" y1="1072.5" x2="718.5" y2="1072.5" stroke="#888" stroke-width="0.6" /><line x1="705.8" y1="1060" x2="705.8" y2="1085" stroke="#888" stroke-width="0.6" />
<!-- front -->
<rect x="1281.2" y="516.6" width="3.2" height="23" stroke="#1e1e1e" stroke-width="1" fill="#fff" rx="1.6" />
<path d="M1260.1,540.5 L1260.1,538.8 Q1260.1,537.5 1262.1,537.5 L1281.2,537.5 M1284.3999999999999,539 L1293.1,536 L1293.1,538.5" stroke="#1e1e1e" stroke-width="1.3" fill="none" />
<rect x="1467" y="516.6" width="3.2" height="23" stroke="#1e1e1e" stroke-width="1" fill="#fff" rx="1.6" />
<path d="M1491.3,540.5 L1491.3,538.8 Q1491.3,537.5 1489.3,537.5 L1470.1999999999998,537.5 M1467.0,539 L1458.3,536 L1458.3,538.5" stroke="#1e1e1e" stroke-width="1.3" fill="none" />
<rect x="1197" y="539" width="46" height="2" stroke="#1e1e1e" stroke-width="0.9" fill="#fff" rx="1" />
<rect x="1524.6" y="539" width="46" height="2" stroke="#1e1e1e" stroke-width="0.9" fill="#fff" rx="1" />
<line x1="1188" y1="541.7" x2="1580" y2="541.7" stroke="#444" stroke-width="2.2" />
<line x1="1202.5" y1="541" x2="1202.5" y2="556.3" stroke="#1e1e1e" stroke-width="2" />
<line x1="1565.8" y1="541" x2="1565.8" y2="556.3" stroke="#1e1e1e" stroke-width="2" />
<line x1="1202.5" y1="556.3" x2="1565.8" y2="556.3" stroke="#444" stroke-width="1.4" />
<path d="M1192.3,556.3 L1192.3,594.2 L1243,594.2 L1243,556.3" stroke="#1e1e1e" stroke-width="1.2" fill="none" />
<path d="M1575.5,556.3 L1575.5,594.2 L1524.8,594.2 L1524.8,556.3" stroke="#1e1e1e" stroke-width="1.2" fill="none" />
<line x1="1247.1" y1="556.3" x2="1247.1" y2="600.7" stroke="#555" stroke-width="1.6" />
<path d="M1188.6,541 L1188.6,575 Q1188.6,577 1190.6,578 L1190.6,592 L1185.3,592 L1185.3,561 L1181.3,561 L1181.3,550" stroke="#1e1e1e" stroke-width="1.1" fill="none" />
<path d="M1188.3,542 Q1179.3,541.5 1179.3,546.5 Q1182.3,548.5 1186.3,547 M1181.3,552 Q1179.3,554 1180.3,557 Q1184.3,558 1187.3,556" stroke="#1e1e1e" stroke-width="1.6" fill="none" />
<path d="M1185.3,592 L1185.3,599 Q1185.3,601.7 1188.3,601.7 L1198.3,601.7 L1198.3,594.2" stroke="#1e1e1e" stroke-width="1.1" fill="none" />
<line x1="1185.3" y1="585" x2="1190.6" y2="585" stroke="#1e1e1e" stroke-width="0.9" />
<path d="M1579.2,541 L1579.2,575 Q1579.2,577 1577.2,578 L1577.2,592 L1582.5,592 L1582.5,561 L1586.5,561 L1586.5,550" stroke="#1e1e1e" stroke-width="1.1" fill="none" />
<path d="M1579.5,542 Q1588.5,541.5 1588.5,546.5 Q1585.5,548.5 1581.5,547 M1586.5,552 Q1588.5,554 1587.5,557 Q1583.5,558 1580.5,556" stroke="#1e1e1e" stroke-width="1.6" fill="none" />
<path d="M1582.5,592 L1582.5,599 Q1582.5,601.7 1579.5,601.7 L1569.5,601.7 L1569.5,594.2" stroke="#1e1e1e" stroke-width="1.1" fill="none" />
<line x1="1582.5" y1="585" x2="1577.2" y2="585" stroke="#1e1e1e" stroke-width="0.9" />
<polygon points="1194.6,570.2 1197.2,572.8 1194.6,575.4 1192,572.8" fill="#111" stroke="none" stroke-width="1" />
<polygon points="1574,570.2 1576.6,572.8 1574,575.4 1571.4,572.8" fill="#111" stroke="none" stroke-width="1" />
<path d="M1206,594.2 Q1208,601 1214,601 L1247,601" stroke="#1e1e1e" stroke-width="1.1" fill="none" />
<path d="M1537,594.2 L1537,600 L1558,600 L1558,594.2" stroke="#1e1e1e" stroke-width="1" fill="none" />
<line x1="1198.8" y1="603.3" x2="1569.3" y2="603.3" stroke="#1e1e1e" stroke-width="3" />
<line x1="1198.8" y1="603" x2="1198.8" y2="654" stroke="#1e1e1e" stroke-width="1.2" />
<line x1="1569.3" y1="603" x2="1569.3" y2="654" stroke="#1e1e1e" stroke-width="1.6" />
<line x1="1198.8" y1="652.4" x2="1569.3" y2="652.4" stroke="#444" stroke-width="1.2" />
<line x1="1198.8" y1="654.9" x2="1569.3" y2="654.9" stroke="#444" stroke-width="1.2" />
<path d="M1198.8,654.9 L1201,659 L1566.7,659 L1569.3,654.9" stroke="#1e1e1e" stroke-width="1.2" fill="none" />
<circle cx="1207" cy="617" r="2.3" stroke="none" stroke-width="1" fill="#1e1e1e" />
<circle cx="1563.4" cy="617" r="2.3" stroke="none" stroke-width="1" fill="#1e1e1e" />
<circle cx="1383.5" cy="647.5" r="2.5" stroke="none" stroke-width="1" fill="#1e1e1e" />
<line x1="1249.3" y1="647.5" x2="1255.7" y2="647.5" stroke="#444" stroke-width="0.9" /><line x1="1252.5" y1="644.3" x2="1252.5" y2="650.7" stroke="#444" stroke-width="0.9" />
<line x1="1257.6" y1="647.5" x2="1264" y2="647.5" stroke="#444" stroke-width="0.9" /><line x1="1260.8" y1="644.3" x2="1260.8" y2="650.7" stroke="#444" stroke-width="0.9" />
<line x1="1270.3" y1="647.5" x2="1276.7" y2="647.5" stroke="#444" stroke-width="0.9" /><line x1="1273.5" y1="644.3" x2="1273.5" y2="650.7" stroke="#444" stroke-width="0.9" />
<line x1="1354.8" y1="647.5" x2="1361.2" y2="647.5" stroke="#444" stroke-width="0.9" /><line x1="1358" y1="644.3" x2="1358" y2="650.7" stroke="#444" stroke-width="0.9" />
<line x1="1452.3" y1="647.5" x2="1458.7" y2="647.5" stroke="#444" stroke-width="0.9" /><line x1="1455.5" y1="644.3" x2="1455.5" y2="650.7" stroke="#444" stroke-width="0.9" />
<line x1="1295.8" y1="653" x2="1302.2" y2="653" stroke="#444" stroke-width="0.9" /><line x1="1299" y1="649.8" x2="1299" y2="656.2" stroke="#444" stroke-width="0.9" />
<line x1="1380.3" y1="653" x2="1386.7" y2="653" stroke="#444" stroke-width="0.9" /><line x1="1383.5" y1="649.8" x2="1383.5" y2="656.2" stroke="#444" stroke-width="0.9" />
<line x1="1465.4" y1="653" x2="1471.8" y2="653" stroke="#444" stroke-width="0.9" /><line x1="1468.6" y1="649.8" x2="1468.6" y2="656.2" stroke="#444" stroke-width="0.9" />
<line x1="1381.8" y1="616" x2="1388.2" y2="616" stroke="#444" stroke-width="0.9" /><line x1="1385" y1="612.8" x2="1385" y2="619.2" stroke="#444" stroke-width="0.9" />
<line x1="1234.8" y1="554" x2="1241.2" y2="554" stroke="#444" stroke-width="0.9" /><line x1="1238" y1="550.8" x2="1238" y2="557.2" stroke="#444" stroke-width="0.9" />
<line x1="1380.3" y1="554" x2="1386.7" y2="554" stroke="#444" stroke-width="0.9" /><line x1="1383.5" y1="550.8" x2="1383.5" y2="557.2" stroke="#444" stroke-width="0.9" />
<line x1="1526.5" y1="554" x2="1532.9" y2="554" stroke="#444" stroke-width="0.9" /><line x1="1529.7" y1="550.8" x2="1529.7" y2="557.2" stroke="#444" stroke-width="0.9" />
<path d="M1341.6,556.5 L1341.6,675 Q1341.6,677.6 1344.1,677.6 L1353.9,677.6 Q1356.4,677.6 1356.4,675 L1356.4,556.5" stroke="#1e1e1e" stroke-width="1.3" fill="#fff" />
<line x1="1344.9" y1="556.5" x2="1344.9" y2="677" stroke="#1e1e1e" stroke-width="0.9" />
<line x1="1353.1" y1="556.5" x2="1353.1" y2="677" stroke="#1e1e1e" stroke-width="0.9" />
<path d="M1411.2,556.5 L1411.2,675 Q1411.2,677.6 1413.7,677.6 L1423.3,677.6 Q1425.8,677.6 1425.8,675 L1425.8,556.5" stroke="#1e1e1e" stroke-width="1.3" fill="#fff" />
<line x1="1414.5" y1="556.5" x2="1414.5" y2="677" stroke="#1e1e1e" stroke-width="0.9" />
<line x1="1422.5" y1="556.5" x2="1422.5" y2="677" stroke="#1e1e1e" stroke-width="0.9" />
<line x1="1356.4" y1="608" x2="1411.2" y2="608" stroke="#1e1e1e" stroke-width="1.1" />
<line x1="1356.4" y1="620" x2="1411.2" y2="620" stroke="#1e1e1e" stroke-width="1.1" />
<line x1="1356.4" y1="660" x2="1411.2" y2="660" stroke="#1e1e1e" stroke-width="1.1" />
<line x1="1356.4" y1="664.7" x2="1411.2" y2="664.7" stroke="#1e1e1e" stroke-width="1.1" />
<line x1="1356.4" y1="677.6" x2="1411.2" y2="677.6" stroke="#1e1e1e" stroke-width="1.1" />
<path d="M1277.6,659 L1277.6,712 Q1277.6,715.2 1281,715.2 L1487,715.2 Q1490.5,715.2 1490.5,712 L1490.5,659" stroke="#1e1e1e" stroke-width="1.6" fill="none" />
<rect x="1295.3" y="716" width="176.4" height="11" stroke="#1e1e1e" stroke-width="1.1" fill="#fff" rx="2.5" />
<line x1="1297" y1="723" x2="1470" y2="723" stroke="#1e1e1e" stroke-width="0.8" />
<line x1="1200.5" y1="659" x2="1200.5" y2="973" stroke="#1e1e1e" stroke-width="1.2" />
<line x1="1223.5" y1="659" x2="1223.5" y2="973" stroke="#1e1e1e" stroke-width="1.2" />
<line x1="1203.5" y1="659" x2="1203.5" y2="973" stroke="#1e1e1e" stroke-width="0.9" />
<line x1="1220.5" y1="659" x2="1220.5" y2="973" stroke="#1e1e1e" stroke-width="0.9" />
<rect x="1200.5" y="970.5" width="23" height="3.5" stroke="#1e1e1e" stroke-width="1" fill="#fff" />
<line x1="1543.2" y1="659" x2="1543.2" y2="973" stroke="#1e1e1e" stroke-width="1.2" />
<line x1="1566.7" y1="659" x2="1566.7" y2="973" stroke="#1e1e1e" stroke-width="1.2" />
<line x1="1547.5" y1="659" x2="1547.5" y2="973" stroke="#1e1e1e" stroke-width="0.9" />
<line x1="1563" y1="659" x2="1563" y2="973" stroke="#1e1e1e" stroke-width="0.9" />
<rect x="1543.2" y="970.5" width="23.5" height="3.5" stroke="#1e1e1e" stroke-width="1" fill="#fff" />
<line x1="1569.8" y1="603" x2="1569.8" y2="760" stroke="#1e1e1e" stroke-width="2" />
<line x1="1568.2" y1="760" x2="1568.2" y2="826" stroke="#1e1e1e" stroke-width="1.4" />
<line x1="1528.9" y1="659" x2="1528.9" y2="715.5" stroke="#1e1e1e" stroke-width="1" />
<line x1="1540.7" y1="659" x2="1540.7" y2="715.5" stroke="#1e1e1e" stroke-width="1" />
<rect x="1537" y="673" width="3.7" height="42.5" fill="#777"/>
<rect x="1520" y="677" width="6.4" height="23.7" stroke="#1e1e1e" stroke-width="1" fill="#fff" rx="3.2" />
<rect x="1520" y="707" width="6.4" height="10" stroke="#1e1e1e" stroke-width="1" fill="#fff" rx="3.2" />
<line x1="1528.9" y1="692.6" x2="1537" y2="692.6" stroke="#1e1e1e" stroke-width="0.9" />
<line x1="1528.9" y1="710" x2="1537" y2="710" stroke="#1e1e1e" stroke-width="0.9" />
<line x1="1540.7" y1="687" x2="1543.2" y2="687" stroke="#1e1e1e" stroke-width="0.9" />
<line x1="1224" y1="715.5" x2="1543.2" y2="715.5" stroke="#1e1e1e" stroke-width="1.1" />
<line x1="1224" y1="738.6" x2="1543.2" y2="738.6" stroke="#1e1e1e" stroke-width="1.1" />
<line x1="1227" y1="715.5" x2="1227" y2="738.6" stroke="#1e1e1e" stroke-width="0.9" />
<rect x="1514.7" y="715.5" width="28.5" height="23" stroke="#1e1e1e" stroke-width="1" fill="#fff" />
<rect x="1517" y="715.5" width="3" height="23" fill="#888"/>
<circle cx="1529.5" cy="727.6" r="3.6" stroke="#1e1e1e" stroke-width="1.1" fill="none" />
<line x1="1527.1" y1="727.6" x2="1531.9" y2="727.6" stroke="#1e1e1e" stroke-width="0.8" /><line x1="1529.5" y1="725.2" x2="1529.5" y2="730" stroke="#1e1e1e" stroke-width="0.8" />
<line x1="1207.2" y1="727" x2="1210.7" y2="727" stroke="#444" stroke-width="0.9" /><line x1="1213.7" y1="727" x2="1217.2" y2="727" stroke="#444" stroke-width="0.9" /><line x1="1212.2" y1="722" x2="1212.2" y2="725.5" stroke="#444" stroke-width="0.9" /><line x1="1212.2" y1="728.5" x2="1212.2" y2="732" stroke="#444" stroke-width="0.9" /><circle cx="1212.2" cy="727" r="1.2" stroke="none" stroke-width="1" fill="#222" />
<path d="M1462,738.6 L1462,742 L1460,754 L1460,756 L1472,756 L1472,754 L1469,742 L1469,738.6" stroke="#1e1e1e" stroke-width="1" fill="none" />
<path d="M1531,738.6 L1531,742 L1529,754 L1529,756 L1540.7,756 L1540.7,754 L1537.7,742 L1537.7,738.6" stroke="#1e1e1e" stroke-width="1" fill="none" />
<line x1="1224" y1="756" x2="1543.2" y2="756" stroke="#1e1e1e" stroke-width="1.2" />
<line x1="1224" y1="760" x2="1543.2" y2="760" stroke="#1e1e1e" stroke-width="1.2" />
<line x1="1224" y1="775.3" x2="1461.6" y2="775.3" stroke="#1e1e1e" stroke-width="1.2" />
<line x1="1224" y1="778.8" x2="1461.6" y2="778.8" stroke="#1e1e1e" stroke-width="1.2" />
<line x1="1224" y1="826.6" x2="1461.6" y2="826.6" stroke="#1e1e1e" stroke-width="1.2" />
<line x1="1224" y1="830.6" x2="1461.6" y2="830.6" stroke="#1e1e1e" stroke-width="1.2" />
<line x1="1224" y1="846.3" x2="1461.6" y2="846.3" stroke="#1e1e1e" stroke-width="1.2" />
<line x1="1224" y1="850" x2="1461.6" y2="850" stroke="#1e1e1e" stroke-width="1.2" />
<line x1="1224" y1="894" x2="1461.6" y2="894" stroke="#1e1e1e" stroke-width="1.2" />
<line x1="1224" y1="898" x2="1461.6" y2="898" stroke="#1e1e1e" stroke-width="1.2" />
<line x1="1224" y1="913.6" x2="1543.2" y2="913.6" stroke="#1e1e1e" stroke-width="1.2" />
<line x1="1224" y1="917.6" x2="1543.2" y2="917.6" stroke="#1e1e1e" stroke-width="1.2" />
<polygon points="1230.6,760 1233.6,763 1230.6,766 1227.6,763" fill="#111" stroke="none" stroke-width="1" />
<circle cx="1230.6" cy="763" r="1" stroke="none" stroke-width="1" fill="#999" />
<polygon points="1435.7,760 1438.7,763 1435.7,766 1432.7,763" fill="#111" stroke="none" stroke-width="1" />
<circle cx="1435.7" cy="763" r="1" stroke="none" stroke-width="1" fill="#999" />
<polygon points="1230.6,906.8 1233.6,909.8 1230.6,912.8 1227.6,909.8" fill="#111" stroke="none" stroke-width="1" />
<circle cx="1230.6" cy="909.8" r="1" stroke="none" stroke-width="1" fill="#999" />
<polygon points="1435.7,906.8 1438.7,909.8 1435.7,912.8 1432.7,909.8" fill="#111" stroke="none" stroke-width="1" />
<circle cx="1435.7" cy="909.8" r="1" stroke="none" stroke-width="1" fill="#999" />
<line x1="1400.4" y1="738.6" x2="1400.4" y2="826.6" stroke="#1e1e1e" stroke-width="1.1" />
<line x1="1414" y1="738.6" x2="1414" y2="826.6" stroke="#1e1e1e" stroke-width="1.1" />
<path d="M1437,779 L1437,806 Q1437,808.2 1439,808.2 L1461.6,808.2" stroke="#1e1e1e" stroke-width="1.6" fill="none" />
<line x1="1400" y1="825.5" x2="1461.6" y2="825.5" stroke="#1e1e1e" stroke-width="2" />
<rect x="1461.6" y="767.8" width="98.8" height="138" stroke="#1e1e1e" stroke-width="1.3" fill="#fff" rx="1" />
<polygon points="1468.6,779.5 1471.4,782.3 1468.6,785.1 1465.8,782.3" fill="#111" stroke="none" stroke-width="1" />
<polygon points="1554,779.5 1556.8,782.3 1554,785.1 1551.2,782.3" fill="#111" stroke="none" stroke-width="1" />
<polygon points="1468.6,888.2 1471.4,891 1468.6,893.8 1465.8,891" fill="#111" stroke="none" stroke-width="1" />
<polygon points="1554,888.2 1556.8,891 1554,893.8 1551.2,891" fill="#111" stroke="none" stroke-width="1" />
<line x1="1207.2" y1="838.3" x2="1210.7" y2="838.3" stroke="#555" stroke-width="0.9" /><line x1="1213.7" y1="838.3" x2="1217.2" y2="838.3" stroke="#555" stroke-width="0.9" /><line x1="1212.2" y1="833.3" x2="1212.2" y2="836.8" stroke="#555" stroke-width="0.9" /><line x1="1212.2" y1="839.8" x2="1212.2" y2="843.3" stroke="#555" stroke-width="0.9" /><circle cx="1212.2" cy="838.3" r="1.2" stroke="none" stroke-width="1" fill="#222" />
<line x1="1550.2" y1="838.3" x2="1553.7" y2="838.3" stroke="#555" stroke-width="0.9" /><line x1="1556.7" y1="838.3" x2="1560.2" y2="838.3" stroke="#555" stroke-width="0.9" /><line x1="1555.2" y1="833.3" x2="1555.2" y2="836.8" stroke="#555" stroke-width="0.9" /><line x1="1555.2" y1="839.8" x2="1555.2" y2="843.3" stroke="#555" stroke-width="0.9" /><circle cx="1555.2" cy="838.3" r="1.2" stroke="none" stroke-width="1" fill="#222" />
<rect x="1201" y="974" width="22" height="14.2" stroke="#1e1e1e" stroke-width="1.1" fill="#fff" rx="1.5" /><line x1="1201" y1="977.5" x2="1223" y2="977.5" stroke="#1e1e1e" stroke-width="0.8" /><line x1="1206" y1="988.2" x2="1206" y2="1023.5" stroke="#1e1e1e" stroke-width="1" /><line x1="1218" y1="988.2" x2="1218" y2="1023.5" stroke="#1e1e1e" stroke-width="1" /><rect x="1201" y="1023.5" width="22" height="10.5" stroke="#1e1e1e" stroke-width="1.1" fill="#fff" rx="2" /><path d="M1191,1041 L1191,1038 Q1191,1036.4 1193,1036.4 L1231,1036.4 Q1233,1036.4 1233,1038 L1233,1041 Z" stroke="#1e1e1e" stroke-width="1.2" fill="#bbb" /><path d="M1193,1041 L1193,1074 Q1193,1078.8 1198,1078.8 L1226,1078.8 Q1231,1078.8 1231,1074 L1231,1041" stroke="#1e1e1e" stroke-width="1.3" fill="#fff" /><path d="M1197.5,1041 L1197.5,1066 M1226.5,1041 L1226.5,1066" stroke="#1e1e1e" stroke-width="1" fill="none" /><rect x="1200" y="1047" width="24" height="8.5" stroke="#1e1e1e" stroke-width="1.2" fill="#777" /><line x1="1200" y1="1051" x2="1224" y2="1051" stroke="#eee" stroke-width="0.8" /><path d="M1202.7,1057.6 L1202.7,1093 Q1212,1096 1221.3,1093 L1221.3,1057.6" stroke="#1e1e1e" stroke-width="1.2" fill="#fff" /><circle cx="1196" cy="1072" r="2.5" stroke="#1e1e1e" stroke-width="1.2" fill="none" /><circle cx="1228" cy="1072" r="2.5" stroke="#1e1e1e" stroke-width="1.2" fill="none" />
<rect x="1544.4" y="974" width="22" height="14.2" stroke="#1e1e1e" stroke-width="1.1" fill="#fff" rx="1.5" /><line x1="1544.4" y1="977.5" x2="1566.4" y2="977.5" stroke="#1e1e1e" stroke-width="0.8" /><line x1="1549.4" y1="988.2" x2="1549.4" y2="1023.5" stroke="#1e1e1e" stroke-width="1" /><line x1="1561.4" y1="988.2" x2="1561.4" y2="1023.5" stroke="#1e1e1e" stroke-width="1" /><rect x="1544.4" y="1023.5" width="22" height="10.5" stroke="#1e1e1e" stroke-width="1.1" fill="#fff" rx="2" /><path d="M1534.4,1041 L1534.4,1038 Q1534.4,1036.4 1536.4,1036.4 L1574.4,1036.4 Q1576.4,1036.4 1576.4,1038 L1576.4,1041 Z" stroke="#1e1e1e" stroke-width="1.2" fill="#bbb" /><path d="M1536.4,1041 L1536.4,1074 Q1536.4,1078.8 1541.4,1078.8 L1569.4,1078.8 Q1574.4,1078.8 1574.4,1074 L1574.4,1041" stroke="#1e1e1e" stroke-width="1.3" fill="#fff" /><path d="M1540.9,1041 L1540.9,1066 M1569.9,1041 L1569.9,1066" stroke="#1e1e1e" stroke-width="1" fill="none" /><rect x="1543.4" y="1047" width="24" height="8.5" stroke="#1e1e1e" stroke-width="1.2" fill="#777" /><line x1="1543.4" y1="1051" x2="1567.4" y2="1051" stroke="#eee" stroke-width="0.8" /><path d="M1546.1000000000001,1057.6 L1546.1000000000001,1093 Q1555.4,1096 1564.7,1093 L1564.7,1057.6" stroke="#1e1e1e" stroke-width="1.2" fill="#fff" /><circle cx="1539.4" cy="1072" r="2.5" stroke="#1e1e1e" stroke-width="1.2" fill="none" /><circle cx="1571.4" cy="1072" r="2.5" stroke="#1e1e1e" stroke-width="1.2" fill="none" />
<!-- iso -->
<defs>
<pattern id="perf" patternUnits="userSpaceOnUse" width="5.9" height="5.9" patternTransform="matrix(0.866,0.5,0.866,-0.5,0,0)">
<rect width="5.9" height="5.9" fill="#e2e2e2"/><circle cx="2.95" cy="2.95" r="1.75" fill="#222"/></pattern>
<linearGradient id="roll" gradientUnits="userSpaceOnUse" x1="1684" y1="207" x2="1689" y2="215"><stop offset="0" stop-color="#2a2a2a"/><stop offset="0.55" stop-color="#9a9a9a"/><stop offset="1" stop-color="#505050"/></linearGradient>
<radialGradient id="wheel" cx="0.5" cy="0.5" r="0.6"><stop offset="0" stop-color="#c8c8c8"/><stop offset="0.6" stop-color="#a0a0a0"/><stop offset="1" stop-color="#555"/></radialGradient>
</defs>
<ellipse cx="1561" cy="307" rx="8" ry="14" fill="#c9c9c9" stroke="#222" stroke-width="1"/>
<ellipse cx="1563" cy="297" rx="6" ry="4" fill="#333" stroke="#111" stroke-width="0.8"/>
<polygon points="1581,305 1594,305 1598,320 1583,322" fill="#c8c8c8" stroke="#555" stroke-width="0.6" />
<polygon points="1349.3,244.3 1357.7,239.7 1412.5,271.3 1412.5,290.8 1349.3,254.6" fill="#393735" stroke="#141414" stroke-width="0.8" />
<polygon points="1349.3,244.3 1357.7,239.7 1357.7,250 1349.3,254.6" fill="#4a4846" stroke="none" stroke-width="0.8" />
<line x1="1357.7" y1="249" x2="1412.5" y2="281.5" stroke="#6a6866" stroke-width="1" />
<polygon points="1431,271.3 1484,240.5 1494.3,244.3 1494.3,255.5 1431,290.8" fill="#393735" stroke="#141414" stroke-width="0.8" />
<line x1="1431" y1="281" x2="1494.3" y2="248.5" stroke="#b8b4ae" stroke-width="1.1" />
<polygon points="1630,281 1683.4,306.4 1683.4,313 1659.5,299.3 1640,289" fill="#393735" stroke="#141414" stroke-width="0.8" />
<polygon points="1581.8,324 1645,285 1665,294.5 1581.8,342.7" fill="#393735" stroke="#141414" stroke-width="0.8" />
<line x1="1582.6" y1="332.7" x2="1657" y2="289.7" stroke="#b8b4ae" stroke-width="1.1" />
<polygon points="1582.2,388.3 1683.4,334.1 1718,330.7 1718,337 1582.2,409.6" fill="#393735" stroke="#141414" stroke-width="0.8" />
<line x1="1582.2" y1="399" x2="1683" y2="343" stroke="#b8b4ae" stroke-width="1.1" />
<polygon points="1683.4,305.5 1719.6,322 1719.6,327.4 1683.4,347.6" fill="#3c3a38" stroke="#141414" stroke-width="0.8" />
<polygon points="1412.5,186.7 1431.1,186.7 1431.1,354 1412.5,354" fill="#353331" stroke="#141414" stroke-width="0.8" />
<polygon points="1420.5,198 1431.1,198 1431.1,354 1420.5,354" fill="#403e3c" stroke="none" stroke-width="0.8" />
<line x1="1420.5" y1="198" x2="1420.5" y2="354" stroke="#1a1a1a" stroke-width="0.7" />
<polygon points="1494.3,244.3 1507.3,244.3 1507.3,361.4 1494.3,361.4" fill="#353331" stroke="#141414" stroke-width="0.8" />
<polygon points="1500.5,250 1507.3,250 1507.3,361.4 1500.5,361.4" fill="#403e3c" stroke="none" stroke-width="0.8" />
<polygon points="1481.3,265.7 1494.3,272 1494.3,285.2 1481.3,279" fill="#3d3b39" stroke="#141414" stroke-width="0.8" />
<polygon points="1494.3,271 1507.3,264 1507.3,286 1494.3,292" fill="#454341" stroke="#141414" stroke-width="0.8" />
<ellipse cx="1503.6" cy="279.7" rx="3.2" ry="3.8" fill="#666" stroke="#111" stroke-width="0.8"/>
<polygon points="1507.3,269.4 1531.4,256 1538,259 1538,272 1516.8,286.2 1507.3,282" fill="#4d4b49" stroke="#141414" stroke-width="0.8" />
<polygon points="1508.8,269.4 1516.8,273.5 1516.8,286.7 1508.8,282.5" fill="#5a5856" stroke="#111" stroke-width="0.7" />
<polygon points="1421.9,318.5 1431,314.5 1563.1,388 1563.1,409.6 1421.9,335.2" fill="#393735" stroke="#141414" stroke-width="0.8" />
<polygon points="1421.9,318.5 1431,314.5 1431,331 1421.9,335.2" fill="#4a4846" stroke="none" stroke-width="0.8" />
<line x1="1431" y1="324" x2="1563.1" y2="397.5" stroke="#8a8784" stroke-width="1" />
<polygon points="1339.6,105.5 1362.9,91.7 1374.6,97.5 1482.5,35.3 1482.5,23.5 1506.1,9.4 1533.5,25.9 1533.5,29 1543.7,36.1 1548.4,32.9 1742,144.3 1752.3,152.4 1781.6,168.5 1781.6,173.5 1760.4,184 1749.9,178.4 1635.8,246 1643.2,252.6 1615.9,264.2 1616.9,288.6 1612,292 1590.6,279.8 1588.5,288 1572.5,288 1412.5,198 1412.5,186.7 1417,184 1417,174.5 1372.5,148.5 1367.7,151.1 1343.8,136.3 1340.6,130" fill="#3a3a3a" stroke="#141414" stroke-width="1" />
<polygon points="1372.5,148.5 1378.8,144.8 1378.8,131 1386.3,126.7 1577.8,236.3 1590.6,262 1590.6,279.8 1588.5,288 1572.5,288 1412.5,198 1412.5,186.7 1417,184 1417,174.5" fill="#383633" stroke="#141414" stroke-width="0.9" />
<polygon points="1379,123 1577,236.5 1577,248.5 1379,135" fill="#4e4e4e" stroke="none" stroke-width="0.8" />
<line x1="1379" y1="123.7" x2="1577" y2="237.2" stroke="#d6d6d6" stroke-width="0.9" />
<line x1="1379" y1="125.7" x2="1577" y2="239.2" stroke="#2a2a2a" stroke-width="0.9" />
<line x1="1379" y1="127.7" x2="1577" y2="241.2" stroke="#9a9a9a" stroke-width="1.6" />
<line x1="1379" y1="129.9" x2="1577" y2="243.4" stroke="#6a6a6a" stroke-width="1.2" />
<line x1="1379" y1="131.7" x2="1577" y2="245.2" stroke="#d0d0d0" stroke-width="0.9" />
<line x1="1379" y1="133.7" x2="1577" y2="247.2" stroke="#1e1e1e" stroke-width="1.0" />
<line x1="1378.8" y1="148.5" x2="1575" y2="262.5" stroke="#1a1a1a" stroke-width="0.9" />
<line x1="1412.5" y1="188.5" x2="1571.2" y2="277.4" stroke="#6e6c69" stroke-width="1" />
<line x1="1417" y1="174.5" x2="1572.5" y2="266" stroke="#1a1a1a" stroke-width="0.8" />
<line x1="1500" y1="225" x2="1500" y2="232" stroke="#111" stroke-width="0.6" />
<polygon points="1412.5,186.7 1417,184 1417,196 1412.5,198" fill="#4a4846" stroke="none" stroke-width="0.8" />
<polygon points="1386.3,126.7 1404.3,116.6 1596.4,226.3 1577.8,236.3" fill="url(#perf)" stroke="#111" stroke-width="0.8" />
<line x1="1577.8" y1="236.3" x2="1596.4" y2="226.3" stroke="#e8e2d8" stroke-width="1.6" />
<polygon points="1531.2,45.5 1545.3,35.3 1735,145.8 1717.8,155.2" fill="url(#perf)" stroke="#111" stroke-width="0.8" />
<line x1="1717.8" y1="155.2" x2="1735" y2="145.8" stroke="#f0ebe0" stroke-width="1.6" />
<line x1="1542.5" y1="38" x2="1731" y2="148" stroke="#1a1a1a" stroke-width="3.2" />
<polygon points="1543.5,34.5 1547,30.5 1743,142.5 1743,146 1736,147.5" fill="#505050" stroke="#111" stroke-width="0.7" />
<line x1="1546" y1="32.5" x2="1741" y2="144" stroke="#d8d8d8" stroke-width="0.9" />
<line x1="1545" y1="35" x2="1739" y2="146.5" stroke="#a0a0a0" stroke-width="0.8" />
<polygon points="1374.6,97.5 1482.5,35.3 1496,33.7 1382,101.2" fill="#2c2c2c" stroke="#111" stroke-width="0.6" />
<line x1="1378" y1="99.3" x2="1488" y2="35.5" stroke="#555" stroke-width="0.8" />
<polygon points="1482.5,23.5 1506.1,9.4 1533.5,25.9 1533.5,29 1543.7,36.1 1524.1,47 1496,33.7 1482.5,35.3" fill="#3d3b39" stroke="#141414" stroke-width="1" />
<polygon points="1482.5,23.5 1496,31 1496,33.7 1482.5,35.3" fill="#2f2d2b" stroke="none" stroke-width="0.8" />
<line x1="1482.5" y1="23.5" x2="1524.1" y2="47" stroke="#222" stroke-width="0.6" />
<circle cx="1508" cy="13.5" r="0.8" stroke="none" stroke-width="1" fill="#111" />
<circle cx="1505" cy="28" r="0.8" stroke="none" stroke-width="1" fill="#111" />
<circle cx="1509.5" cy="42.5" r="0.8" stroke="none" stroke-width="1" fill="#111" />
<circle cx="1531" cy="55" r="0.8" stroke="none" stroke-width="1" fill="#111" />
<polygon points="1339.6,105.5 1343.8,136.3 1367.7,151.1 1378.8,144.8 1378.8,131 1386.3,126.7 1372.5,120 1367.2,120 1343,107" fill="#2e2d2c" stroke="#141414" stroke-width="1" />
<polygon points="1362.9,91.7 1404.3,116.6 1386.3,126.7 1372.5,120 1367.2,120 1343,107 1339.6,105.5" fill="#646a7c" stroke="#141414" stroke-width="0.9" />
<line x1="1386.3" y1="126.7" x2="1404.3" y2="116.6" stroke="#9aa0b0" stroke-width="1" />
<ellipse cx="1355" cy="131" rx="9.5" ry="11.5" fill="#2a2c33" stroke="#8c92a8" stroke-width="1.6" transform="rotate(-20 1355 131)"/>
<ellipse cx="1355" cy="131" rx="5" ry="6" fill="none" stroke="#555a66" stroke-width="1"/>
<circle cx="1355" cy="131" r="1.6" stroke="none" stroke-width="1" fill="#888" />
<polygon points="1362,136 1367,128 1369,137 1364,143" fill="#9ea4b8" stroke="none" stroke-width="0.8" />
<polygon points="1717.6,156.1 1735,146.8 1748,150 1752.3,149 1781.5,166 1781.5,173.5 1760.4,184 1742.4,173.5" fill="#646a7c" stroke="#141414" stroke-width="0.9" />
<polygon points="1760.4,179 1781.5,168.5 1781.5,173.5 1760.4,184" fill="#8a90a2" stroke="none" stroke-width="0.8" />
<polygon points="1625.4,265.5 1724,318.5 1724,326.5 1625.4,270" fill="#d8d8d8" stroke="#222" stroke-width="1" />
<polygon points="1724,318.5 1878.3,231.7 1878.3,238.5 1724,326.5" fill="#c4c4c4" stroke="#222" stroke-width="1" />
<line x1="1627" y1="267.8" x2="1722" y2="320.8" stroke="#555" stroke-width="1.2" stroke-dasharray="1.2,1.2"/>
<line x1="1726" y1="321" x2="1876" y2="235" stroke="#555" stroke-width="1.2" stroke-dasharray="1.2,1.2"/>
<polygon points="1625.4,265.5 1635.8,246 1749.9,178.4 1760.4,184 1781.6,176.5 1878.3,231.7 1724,318.5" fill="#d0d0d0" stroke="#222" stroke-width="0.8" />
<polygon points="1625.9,240.4 1742.4,173.5 1749.9,178.4 1635.8,246" fill="url(#roll)" stroke="#111" stroke-width="0.6" />
<polygon points="1577,237 1598.4,227.3 1625.9,240.4 1643.2,252.6 1615.9,264.2" fill="#403e3b" stroke="#141414" stroke-width="0.9" />
<polygon points="1615.9,264.2 1643.2,252.6 1643.2,256 1625.4,266 1625.4,270 1638,280 1617.3,289.5" fill="#2e2d2b" stroke="#141414" stroke-width="0.8" />
<line x1="1618" y1="262.5" x2="1641" y2="252.8" stroke="#6a6866" stroke-width="1" />
<polygon points="1577,237 1615.9,264.2 1616.9,288.6 1612,292 1590.6,279.8 1588,262" fill="#333130" stroke="#141414" stroke-width="0.8" />
<ellipse cx="1598.5" cy="270.5" rx="9" ry="10.5" fill="#2a2c33" stroke="#6c7288" stroke-width="2" transform="rotate(-25 1598.5 270.5)"/>
<ellipse cx="1598.5" cy="270.5" rx="4.5" ry="5.2" fill="none" stroke="#666b78" stroke-width="1"/>
<polygon points="1605,265 1611,262 1612,276 1606,280" fill="#7d8397" stroke="none" stroke-width="0.8" />
<polygon points="1580,248 1586,245 1587,256 1581,259" fill="#3d3b39" stroke="#111" stroke-width="0.7" />
<polygon points="1572.5,266.8 1588.5,275 1588.5,288 1572.5,288" fill="#4e5262" stroke="#111" stroke-width="0.7" />
<polygon points="1723.1,178.8 1726,178.2 1831.5,239.3 1841,245.7 1840.2,248 1830.7,252 1719,190.5 1720.3,184" fill="#3a3836" stroke="#141414" stroke-width="1" />
<line x1="1720.3" y1="189.5" x2="1828.3" y2="250.5" stroke="#111" stroke-width="0.9" />
<polygon points="1831.5,239.3 1841,245.7 1840.2,248 1830.7,252" fill="#4a4846" stroke="#111" stroke-width="0.7" />
<polygon points="1642.6,224.5 1645.1,223.8 1754.5,285.6 1755,296 1642.6,233.9" fill="#393735" stroke="#141414" stroke-width="1" />
<polygon points="1642.6,233.9 1755,296 1757,294 1746,301.6 1655.2,251.2 1644.7,236" fill="#4a4846" stroke="#141414" stroke-width="0.9" />
<circle cx="1702.3" cy="272.2" r="1.3" stroke="none" stroke-width="1" fill="#111" />
<circle cx="1738.9" cy="293.2" r="1.3" stroke="none" stroke-width="1" fill="#111" />
<line x1="1797.6" y1="216.8" x2="1806" y2="213.7" stroke="#222" stroke-width="1.8" stroke-linecap="round"/>
<line x1="1774" y1="230.7" x2="1782.7" y2="227.5" stroke="#222" stroke-width="1.8" stroke-linecap="round"/>
<line x1="1833.7" y1="237" x2="1843.3" y2="233.8" stroke="#222" stroke-width="1.8" stroke-linecap="round"/>
<line x1="1811.4" y1="251.9" x2="1818.8" y2="248.7" stroke="#222" stroke-width="1.8" stroke-linecap="round"/>
<line x1="1686" y1="282.7" x2="1695.6" y2="279.5" stroke="#222" stroke-width="1.8" stroke-linecap="round"/>
<line x1="1723.2" y1="302.9" x2="1732.8" y2="299.7" stroke="#222" stroke-width="1.8" stroke-linecap="round"/>
<circle cx="1753" cy="182.9" r="0.9" stroke="none" stroke-width="1" fill="#333" />
<circle cx="1778.5" cy="185" r="0.9" stroke="none" stroke-width="1" fill="#333" />
<circle cx="1775.3" cy="195.6" r="0.9" stroke="none" stroke-width="1" fill="#333" />
<circle cx="1672.2" cy="283.8" r="0.9" stroke="none" stroke-width="1" fill="#333" />
<circle cx="1702" cy="272" r="0.9" stroke="none" stroke-width="1" fill="#333" />
<circle cx="1739" cy="292.3" r="0.9" stroke="none" stroke-width="1" fill="#333" />
<circle cx="1792" cy="218" r="0.9" stroke="none" stroke-width="1" fill="#333" />
<circle cx="1716" cy="294" r="0.9" stroke="none" stroke-width="1" fill="#333" />
<polygon points="1563.1,284 1582.2,284 1582.2,441.4 1563.1,441.4" fill="#353331" stroke="#141414" stroke-width="0.8" />
<polygon points="1572,290 1582.2,290 1582.2,441.4 1572,441.4" fill="#42403d" stroke="none" stroke-width="0.8" />
<line x1="1572" y1="290" x2="1572" y2="441" stroke="#1a1a1a" stroke-width="0.7" />
<polygon points="1708.7,330 1718,326 1727.5,326 1727.5,357.7 1708.7,357.7" fill="#353331" stroke="#141414" stroke-width="0.8" />
<polygon points="1717,330 1727,330 1727,357 1717,357" fill="#3f3d3a" stroke="none" stroke-width="0.8" />
<polygon points="1412.3,353 1430.3,353 1429.3,360 1413.3,360" fill="#2a2a2a" stroke="#111" stroke-width="0.7" /><polygon points="1416.3,360 1426.3,360 1426.3,377 1416.3,377" fill="#333" stroke="#111" stroke-width="0.7" /><ellipse cx="1427.3" cy="404" rx="16" ry="16" fill="#cfcfcf" stroke="#444" stroke-width="1.1"/><ellipse cx="1430.3" cy="408" rx="8" ry="10" fill="#e6e6e6" stroke="#666" stroke-width="0.9"/><circle cx="1429.3" cy="411" r="2.5" stroke="#333" stroke-width="1" fill="#777" /><path d="M1409.3,387 Q1409.3,402 1418.3,410 L1424.3,400 L1429.3,388 Z" fill="#8a8a8a" stroke="#222" stroke-width="0.8"/><ellipse cx="1421.3" cy="385" rx="12.5" ry="8" fill="#2e2e2e" stroke="#111" stroke-width="0.8"/><ellipse cx="1421.3" cy="383" rx="8" ry="4.5" fill="#444" stroke="none"/><polygon points="1427.3,391 1449.3,397 1455.3,403 1452.3,408 1430.3,403" fill="#bdbdbd" stroke="#333" stroke-width="0.8" /><line x1="1449.3" y1="406" x2="1456.3" y2="401" stroke="#222" stroke-width="1.1" /><circle cx="1426.3" cy="398" r="1.3" stroke="none" stroke-width="1" fill="#111" />
<polygon points="1563.5,440.4 1581.5,440.4 1580.5,447.4 1564.5,447.4" fill="#2a2a2a" stroke="#111" stroke-width="0.7" /><polygon points="1567.5,447.4 1577.5,447.4 1577.5,464.4 1567.5,464.4" fill="#333" stroke="#111" stroke-width="0.7" /><ellipse cx="1578.5" cy="491.4" rx="16" ry="16" fill="#cfcfcf" stroke="#444" stroke-width="1.1"/><ellipse cx="1581.5" cy="495.4" rx="8" ry="10" fill="#e6e6e6" stroke="#666" stroke-width="0.9"/><circle cx="1580.5" cy="498.4" r="2.5" stroke="#333" stroke-width="1" fill="#777" /><path d="M1560.5,474.4 Q1560.5,489.4 1569.5,497.4 L1575.5,487.4 L1580.5,475.4 Z" fill="#8a8a8a" stroke="#222" stroke-width="0.8"/><ellipse cx="1572.5" cy="472.4" rx="12.5" ry="8" fill="#2e2e2e" stroke="#111" stroke-width="0.8"/><ellipse cx="1572.5" cy="470.4" rx="8" ry="4.5" fill="#444" stroke="none"/><polygon points="1578.5,478.4 1600.5,484.4 1606.5,490.4 1603.5,495.4 1581.5,490.4" fill="#bdbdbd" stroke="#333" stroke-width="0.8" /><line x1="1600.5" y1="493.4" x2="1607.5" y2="488.4" stroke="#222" stroke-width="1.1" /><circle cx="1577.5" cy="485.4" r="1.3" stroke="none" stroke-width="1" fill="#111" />
<polygon points="1709.3,356.7 1727.3,356.7 1726.3,363.7 1710.3,363.7" fill="#2a2a2a" stroke="#111" stroke-width="0.7" /><polygon points="1713.3,363.7 1723.3,363.7 1723.3,380.7 1713.3,380.7" fill="#333" stroke="#111" stroke-width="0.7" /><ellipse cx="1724.3" cy="407.7" rx="16" ry="16" fill="#cfcfcf" stroke="#444" stroke-width="1.1"/><ellipse cx="1727.3" cy="411.7" rx="8" ry="10" fill="#e6e6e6" stroke="#666" stroke-width="0.9"/><circle cx="1726.3" cy="414.7" r="2.5" stroke="#333" stroke-width="1" fill="#777" /><path d="M1706.3,390.7 Q1706.3,405.7 1715.3,413.7 L1721.3,403.7 L1726.3,391.7 Z" fill="#8a8a8a" stroke="#222" stroke-width="0.8"/><ellipse cx="1718.3" cy="388.7" rx="12.5" ry="8" fill="#2e2e2e" stroke="#111" stroke-width="0.8"/><ellipse cx="1718.3" cy="386.7" rx="8" ry="4.5" fill="#444" stroke="none"/><polygon points="1724.3,394.7 1746.3,400.7 1752.3,406.7 1749.3,411.7 1727.3,406.7" fill="#bdbdbd" stroke="#333" stroke-width="0.8" /><line x1="1746.3" y1="409.7" x2="1753.3" y2="404.7" stroke="#222" stroke-width="1.1" /><circle cx="1723.3" cy="401.7" r="1.3" stroke="none" stroke-width="1" fill="#111" />
<!-- table -->
<line x1="1717.3" y1="1061.7" x2="1913" y2="1061.7" stroke="#d2d2d2" stroke-width="1.4" />
<line x1="1717.3" y1="1091.2" x2="1913" y2="1091.2" stroke="#d2d2d2" stroke-width="1.4" />
<line x1="1717.3" y1="1121" x2="1913" y2="1121" stroke="#d2d2d2" stroke-width="1.4" />
<line x1="1717.3" y1="1061" x2="1717.3" y2="1130" stroke="#d2d2d2" stroke-width="1.4" />
<line x1="1751.4" y1="1061" x2="1751.4" y2="1130" stroke="#d2d2d2" stroke-width="1.4" />
<text x="1725.3" y="1077.2" font-family="Liberation Sans, sans-serif" font-size="12" fill="#1a1a1a" text-anchor="start" textLength="18.2" lengthAdjust="spacingAndGlyphs">ISS</text>
<text x="1824.3" y="1078.2" font-family="Liberation Sans, sans-serif" font-size="12" fill="#1a1a1a" text-anchor="start" textLength="62.6" lengthAdjust="spacingAndGlyphs">REVISIONS</text>
<text x="1731.8" y="1107.4" font-family="Liberation Sans, sans-serif" font-size="12" fill="#1a1a1a" text-anchor="start" >J</text>
<text x="1755.5" y="1107.2" font-family="Liberation Sans, sans-serif" font-size="12" fill="#1a1a1a" text-anchor="start" textLength="58.2" lengthAdjust="spacingAndGlyphs">24/04/2026</text>
</svg>
</body></html>
